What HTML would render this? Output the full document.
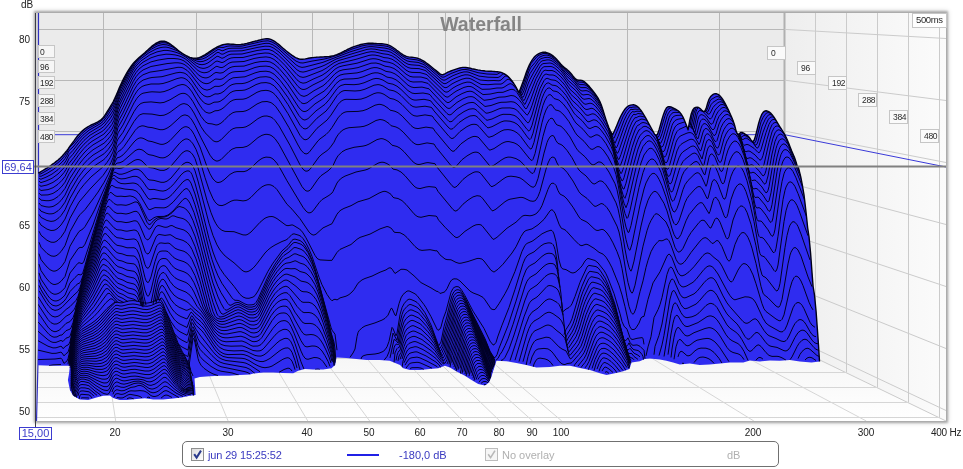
<!DOCTYPE html>
<html><head><meta charset="utf-8"><title>Waterfall</title>
<style>
html,body{margin:0;padding:0;background:#fff;}
body{width:963px;height:469px;position:relative;overflow:hidden;font-family:"Liberation Sans",sans-serif;}
.frame{position:absolute;left:36px;top:13px;width:910px;height:408px;box-shadow:0 0 2px 2px rgba(0,0,0,0.26),0 0 5px 2px rgba(0,0,0,0.16);background:#ebebeb}
.ax,.lb,.cur,.title,.lt{will-change:transform}
.ax{position:absolute;font-size:10px;color:#222;line-height:10px;white-space:nowrap}
.yl{width:30px;text-align:right;left:0}
.xl{width:40px;text-align:center;top:428px}
.lb{position:absolute;box-sizing:border-box;border:1px solid #c6c6c6;background:#f6f6f6;font-size:8.5px;line-height:12px;color:#2a2a2a;padding-left:1px;overflow:hidden;white-space:nowrap;letter-spacing:-0.35px}
.cur{position:absolute;box-sizing:border-box;border:1px solid #3c3cd0;background:#fff;color:#3c3cc8;font-size:11px;text-align:center;white-space:nowrap}
.title{position:absolute;left:381px;top:13px;width:200px;text-align:center;font-size:19.5px;font-weight:bold;color:#858585;line-height:22px}
.legend{position:absolute;left:182px;top:441px;width:597px;height:26px;box-sizing:border-box;border:1px solid #707070;border-radius:5px;background:#fff}
.lt{position:absolute;top:449px;font-size:11px;line-height:12px;white-space:nowrap}
.cb{position:absolute;top:448px;width:13px;height:13px;box-sizing:border-box;border:1px solid #8e8f8f;background:linear-gradient(135deg,#dcdcdc,#ffffff)}
</style></head><body>
<div class="frame"></div>
<svg width="963" height="469" viewBox="0 0 963 469" style="position:absolute;left:0;top:0">
<defs>
<linearGradient id="gside" x1="0" y1="0" x2="1" y2="0"><stop offset="0" stop-color="#eeeeee"/><stop offset="1" stop-color="#fbfbfb"/></linearGradient>
<linearGradient id="gfloor" x1="0" y1="0" x2="0" y2="1"><stop offset="0" stop-color="#f4f4f4"/><stop offset="1" stop-color="#ffffff"/></linearGradient>
<clipPath id="sil"><path d="M38.3,173.2 39.8,172.3 41.3,171.4 42.8,170.5 44.3,169.6 45.8,168.7 47.3,167.8 48.8,166.8 50.3,165.8 51.8,164.7 53.3,163.7 54.8,162.6 56.3,161.4 57.8,160.2 59.3,158.9 60.8,157.5 62.3,156 63.8,154.3 65.3,152.5 66.8,150.6 68.3,148.6 69.8,146.5 71.3,144.4 72.8,142.3 74.3,140.3 75.8,138.2 77.3,136.3 78.8,134.5 80.3,132.9 81.8,131.4 83.3,130.1 84.8,128.9 86.3,127.8 87.8,126.8 89.3,126 90.8,125.2 92.3,124.5 93.8,123.8 95.3,123.1 96.8,122.4 98.3,121.6 99.8,120.6 101.3,119.5 102.8,118 104.3,116.1 105.8,113.8 107.3,111.4 108.8,109.1 110.3,106.7 111.8,104.2 113.3,101.5 114.8,98.4 116.3,95 117.8,91.4 119.3,87.9 120.8,84.5 122.3,81.3 123.8,78.3 125.3,75.5 126.8,72.9 128.3,70.4 129.8,68.1 131.3,66 132.8,64 134.3,62.3 135.8,60.7 137.3,59.2 138.8,57.9 140.3,56.6 141.8,55.3 143.3,54 144.8,52.7 146.3,51.3 147.8,49.9 149.3,48.5 150.8,47.2 152.3,45.9 153.8,44.8 155.3,43.7 156.8,42.8 158.3,42.1 159.8,41.5 161.3,41.2 162.8,41.1 164.3,41.2 165.8,41.6 167.3,42.3 168.8,43.1 170.3,44.1 171.8,45.2 173.3,46.4 174.8,47.6 176.3,48.8 177.8,50.1 179.3,51.2 180.8,52.3 182.3,53.4 183.8,54.3 185.3,55.2 186.8,56 188.3,56.7 189.8,57.3 191.3,57.8 192.8,58.1 194.3,58.3 195.8,58.3 197.3,58 198.8,57.6 200.3,57.1 201.8,56.4 203.3,55.6 204.8,54.8 206.3,53.8 207.8,52.9 209.3,51.9 210.8,50.9 212.3,49.9 213.8,48.9 215.3,48 216.8,47.2 218.3,46.5 219.8,45.8 221.3,45.2 222.8,44.8 224.3,44.4 225.8,44.2 227.3,44 228.8,44 230.3,44.1 231.8,44.2 233.3,44.3 234.8,44.4 236.3,44.6 237.8,44.6 239.3,44.6 240.8,44.5 242.3,44.3 243.8,44.1 245.3,43.7 246.8,43.4 248.3,43 249.8,42.6 251.3,42.2 252.8,41.8 254.3,41.4 255.8,41 257.3,40.7 258.8,40.3 260.3,39.9 261.8,39.5 263.3,39.1 264.8,38.9 266.3,38.7 267.8,38.7 269.3,39 270.8,39.4 272.3,40.1 273.8,40.9 275.3,41.9 276.8,43 278.3,44.1 279.8,45.4 281.3,46.7 282.8,48 284.3,49.2 285.8,50.5 287.3,51.7 288.8,52.9 290.3,54 291.8,55.1 293.3,56.1 294.8,57.1 296.3,57.9 297.8,58.5 299.3,59 300.8,59.2 302.3,59.2 303.8,59.1 305.3,58.9 306.8,58.6 308.3,58.3 309.8,58 311.3,57.8 312.8,57.6 314.3,57.4 315.8,57.3 317.3,57.1 318.8,57.1 320.3,57 321.8,57 323.3,56.9 324.8,56.8 326.3,56.8 327.8,56.6 329.3,56.5 330.8,56.2 332.3,55.9 333.8,55.6 335.3,55.1 336.8,54.6 338.3,54 339.8,53.3 341.3,52.6 342.8,51.8 344.3,51 345.8,50.3 347.3,49.5 348.8,48.8 350.3,48.1 351.8,47.5 353.3,46.9 354.8,46.4 356.3,45.9 357.8,45.4 359.3,45 360.8,44.5 362.3,44.2 363.8,43.9 365.3,43.6 366.8,43.4 368.3,43.3 369.8,43.2 371.3,43.2 372.8,43.3 374.3,43.4 375.8,43.5 377.3,43.6 378.8,43.6 380.3,43.7 381.8,43.8 383.3,43.9 384.8,44.1 386.3,44.4 387.8,44.8 389.3,45.4 390.8,46.1 392.3,47 393.8,48 395.3,49 396.8,50.2 398.3,51.3 399.8,52.5 401.3,53.6 402.8,54.6 404.3,55.5 405.8,56.1 407.3,56.6 408.8,56.9 410.3,57.1 411.8,57.2 413.3,57.4 414.8,57.6 416.3,57.9 417.8,58.3 419.3,58.9 420.8,59.5 422.3,60.3 423.8,61.2 425.3,62.2 426.8,63.3 428.3,64.4 429.8,65.6 431.3,66.8 432.8,68 434.3,69.2 435.8,70.4 437.3,71.6 438.8,72.9 440.3,74.1 441.8,74.7 443.3,74.5 444.8,73.9 446.3,73 447.8,72.2 449.3,71.6 450.8,71 452.3,70.4 453.8,69.9 455.3,69.4 456.8,68.9 458.3,68.4 459.8,68 461.3,67.6 462.8,67.4 464.3,67.4 465.8,67.5 467.3,67.7 468.8,68 470.3,68.3 471.8,68.7 473.3,69 474.8,69.3 476.3,69.6 477.8,69.9 479.3,70.1 480.8,70.4 482.3,70.6 483.8,70.8 485.3,71 486.8,71.1 488.3,71.2 489.8,71.3 491.3,71.3 492.8,71.4 494.3,71.5 495.8,71.6 497.3,71.7 498.8,71.9 500.3,72.2 501.8,72.7 503.3,73.3 504.8,74.1 506.3,75.1 507.8,76.3 509.3,77.8 510.8,79.4 512.3,81.3 513.8,83.5 515.3,85.9 516.8,88.5 518.3,91.3 518.9,92.4 520.4,88.7 521.9,84.8 523.4,80.7 524.9,76.4 526.4,72.1 527.9,68.3 529.4,64.9 530.9,62 532.4,59.6 533.9,57.6 535.4,56 536.9,54.8 538.4,53.8 539.9,53.1 541.4,52.6 542.9,52.3 544.4,52.2 545.9,52.3 547.4,52.8 548.9,53.4 550.4,54.2 551.9,55.2 553.4,56.2 554.9,57.5 556.4,58.9 557.9,60.6 559.4,62.4 560.9,64.2 562.4,65.8 563.9,67.1 565.4,68.2 566.9,69.4 568.4,70.8 569.9,72.3 571.4,74 572.9,75.9 574.4,77.7 575.9,79.2 577.4,80 578.9,80.2 580.4,80.3 581.9,80.5 583.4,81.2 584.9,82.2 586.4,83.5 587.9,85 589.4,86.6 590.9,88.4 592.4,90.2 593.9,92.1 595.4,94.1 596.9,96.3 598.4,98.7 599.9,101.6 601.4,105.3 602.9,109.8 604.4,114.7 605.9,119.4 607.4,123.8 608.9,127.7 610.4,131 611.9,133.8 612.5,134.9 614,131.8 615.5,128.5 617,124.9 618.5,121.3 620,117.9 621.5,114.8 623,112.1 624.5,109.8 626,107.9 627.5,106.5 629,105.6 630.5,105.1 632,104.9 633.5,104.8 635,105.1 636.5,105.9 638,107 639.5,108.6 641,110.5 642.5,112.7 644,115.1 645.5,117.6 647,120.3 648.5,123.1 650,125.9 651.5,128.6 653,131.4 654.5,134.1 656,135.8 657.5,134.2 659,129.9 660.5,124.7 662,119.3 663.5,114.4 665,110.5 666.5,107.9 668,106.8 669.5,106.6 671,106.9 672.5,107.6 674,108.3 675.5,109.1 677,110 678.5,111.1 680,112.6 681.5,114.5 683,117.1 684.5,120.5 686,124.2 687.5,128.3 688.1,129.9 689.6,121 691.1,114.3 692.6,110.2 694.1,108.2 695.6,107.4 697.1,107.2 698.6,107.5 700.1,108.6 701.6,110.1 703.1,111.4 704.6,111.4 706.1,108.6 707.6,103.3 709.1,99 710.6,96.6 712.1,95.2 713.6,94.2 715.1,93.7 716.6,93.8 718.1,94.4 719.6,95.6 721.1,97.2 722.6,99.2 724.1,101.6 725.6,104.3 727.1,107.2 728.6,110.3 730.1,113.7 731.6,117.1 733.1,120.7 734.6,125.3 736.1,131.1 737.6,134.5 739.1,133.9 740.6,132.5 742.1,132.4 743.6,133.2 745.1,134.2 746.6,135.1 748.1,136.1 749.6,137.8 751.1,140.2 752.6,141.8 754.1,140.3 755.6,135.7 757.1,129.6 758.6,123.5 760.1,118.4 761.6,114.7 763.1,112.4 764.6,111.1 766.1,110.8 767.6,111.1 769.1,111.9 770.6,113.1 772.1,114.7 773.6,116.7 775.1,119 776.6,121.4 778.1,123.9 779.6,126.3 781.1,128.6 782.6,131 784.1,133.6 785.6,136.4 787.1,139.6 788.6,143.1 790.1,146.9 791.6,150.7 793.1,154.2 794.6,157.7 796.1,162.3 797.3,166.5 798.2,166.6 800.7,176.6 802.3,184.9 804,194.9 805.2,204.9 806.5,216.5 807.7,228 809,236.6 810.6,253.3 811.8,269.9 813.1,286.5 814.5,295 816.1,311.6 817.3,328.3 818.5,344.9 819.5,361.5 811.5,362.4 799.8,361.5 789.9,359.9 779.9,360.7 769.9,360.4 759.9,361.5 749.9,360.4 743.3,362.4 730,362.4 720,363.6 709.7,364.6 699.7,364.9 689.7,363.6 679.8,364.6 673.1,362.4 666.4,360.7 659.8,359.6 649.8,358.6 644.8,359.1 639.8,361.2 631.5,362.4 629.5,369.1 623.2,371.2 614.9,373.2 606.6,374.9 599.9,373.2 589.9,369.9 580,367.9 570,365.7 560,365.7 549.7,366.9 536.4,367.4 526.4,364.9 516.4,362.9 506.4,361.2 496.5,360.7 494,368.2 491.5,376.6 489,382.4 484.8,385.4 478.2,384 471.5,379.9 464.9,375.7 456.6,371.6 449.9,367.4 444.9,365.7 438.3,368.2 429.9,369.1 420,369.9 410,369.9 403.3,368.2 400,364.9 389.7,360.7 379.7,359.9 366.4,359.9 356.4,359.1 346.4,357.9 336.5,357.4 335.1,364.9 331.5,368.2 323.2,369.6 313.2,369.6 304.9,369.1 298.2,370.7 293.2,373.2 283.2,372.9 273.3,372.4 263.3,372.4 253.3,373.6 250,374.6 239.7,374.9 229.7,375.7 219.7,375.7 209.8,376.2 199.8,376.9 194.5,378.6 195.6,394.9 189.8,395.7 181.5,397.4 173.2,398.5 163.2,399.5 153.2,399.5 144.9,398.2 136.6,399 126.6,399.9 119.8,399.9 113.2,397.9 109.8,395.4 103.2,395.7 96.5,397.4 88.2,399.9 79.9,399.5 73.2,395.7 69.9,389.9 67.9,379.9 69.1,373.2 69.9,365.8 52.5,365.8 38,365.3Z"/></clipPath>
<clipPath id="plot"><rect x="36.0" y="13.0" width="910.0" height="408.0"/></clipPath>
</defs>
<g clip-path="url(#plot)">
<polygon points="36.0,13.0 38.5,13.0 38.5,343.0 36.0,421.0" fill="#d4d4d4"/>
<rect x="38.5" y="13.0" width="746.2" height="330.0" fill="#ebebeb"/>
<polygon points="784.7,13.0 946.0,13.0 946.0,421.0 784.7,343.0" fill="url(#gside)"/>
<polygon points="38.5,343.0 784.7,343.0 946.0,421.0 36.0,421.0" fill="url(#gfloor)"/>
<path d="M103.5,13.0V343.0M196.5,13.0V343.0M261.5,13.0V343.0M312.5,13.0V343.0M353.5,13.0V343.0M388.5,13.0V343.0M418.5,13.0V343.0M445.5,13.0V343.0M469.5,13.0V343.0M627.5,13.0V343.0M719.5,13.0V343.0M38.5,29.5H784.7M38.5,80.5H784.7M38.5,131.5H784.7M38.5,181.5H784.7M38.5,232.5H784.7M38.5,283.5H784.7M38.5,334.5H784.7" stroke="#b8b8b8" stroke-width="1" fill="none"/>
<path d="M784.5,13.0V343.0" stroke="#b0b0b0" stroke-width="2" fill="none"/>
<path d="M815.5,13.0V358.0M846.5,13.0V373.0M877.5,13.0V387.9M908.5,13.0V402.9M939.5,13.0V417.9M784.7,29.4L946.0,38.5M784.7,80.2L946.0,100.5M784.7,131.1L946.0,162.5M784.7,181.9L946.0,224.5M784.7,232.8L946.0,286.5M784.7,283.6L946.0,348.5M784.7,334.4L946.0,410.5M784.7,343.0L946.0,421.0" stroke="#cbcbcb" stroke-width="1" fill="none"/>
<path d="M38.0,358.5H815.7M37.6,372.5H846.7M37.1,387.5H877.6M36.6,402.5H908.6M36.1,417.5H939.5M103.9,343.0L115.7,421.0M196.0,343.0L228.1,421.0M261.4,343.0L307.8,421.0M312.1,343.0L369.7,421.0M353.6,343.0L420.2,421.0M388.6,343.0L462.9,421.0M419.0,343.0L499.9,421.0M445.7,343.0L532.6,421.0M469.7,343.0L561.8,421.0M627.2,343.0L753.9,421.0M719.3,343.0L866.3,421.0" stroke="#d6d6d6" stroke-width="1" fill="none"/>
<path d="M38.5,134.7H784.7L946.0,167.0" stroke="#3a3ad8" stroke-width="1" fill="none"/>
<path d="M38.5,13.0V343.0L36.5,421.0" stroke="#3030c0" stroke-width="1.2" fill="none"/>
<path d="M38.3,173.2 39.8,172.3 41.3,171.4 42.8,170.5 44.3,169.6 45.8,168.7 47.3,167.8 48.8,166.8 50.3,165.8 51.8,164.7 53.3,163.7 54.8,162.6 56.3,161.4 57.8,160.2 59.3,158.9 60.8,157.5 62.3,156 63.8,154.3 65.3,152.5 66.8,150.6 68.3,148.6 69.8,146.5 71.3,144.4 72.8,142.3 74.3,140.3 75.8,138.2 77.3,136.3 78.8,134.5 80.3,132.9 81.8,131.4 83.3,130.1 84.8,128.9 86.3,127.8 87.8,126.8 89.3,126 90.8,125.2 92.3,124.5 93.8,123.8 95.3,123.1 96.8,122.4 98.3,121.6 99.8,120.6 101.3,119.5 102.8,118 104.3,116.1 105.8,113.8 107.3,111.4 108.8,109.1 110.3,106.7 111.8,104.2 113.3,101.5 114.8,98.4 116.3,95 117.8,91.4 119.3,87.9 120.8,84.5 122.3,81.3 123.8,78.3 125.3,75.5 126.8,72.9 128.3,70.4 129.8,68.1 131.3,66 132.8,64 134.3,62.3 135.8,60.7 137.3,59.2 138.8,57.9 140.3,56.6 141.8,55.3 143.3,54 144.8,52.7 146.3,51.3 147.8,49.9 149.3,48.5 150.8,47.2 152.3,45.9 153.8,44.8 155.3,43.7 156.8,42.8 158.3,42.1 159.8,41.5 161.3,41.2 162.8,41.1 164.3,41.2 165.8,41.6 167.3,42.3 168.8,43.1 170.3,44.1 171.8,45.2 173.3,46.4 174.8,47.6 176.3,48.8 177.8,50.1 179.3,51.2 180.8,52.3 182.3,53.4 183.8,54.3 185.3,55.2 186.8,56 188.3,56.7 189.8,57.3 191.3,57.8 192.8,58.1 194.3,58.3 195.8,58.3 197.3,58 198.8,57.6 200.3,57.1 201.8,56.4 203.3,55.6 204.8,54.8 206.3,53.8 207.8,52.9 209.3,51.9 210.8,50.9 212.3,49.9 213.8,48.9 215.3,48 216.8,47.2 218.3,46.5 219.8,45.8 221.3,45.2 222.8,44.8 224.3,44.4 225.8,44.2 227.3,44 228.8,44 230.3,44.1 231.8,44.2 233.3,44.3 234.8,44.4 236.3,44.6 237.8,44.6 239.3,44.6 240.8,44.5 242.3,44.3 243.8,44.1 245.3,43.7 246.8,43.4 248.3,43 249.8,42.6 251.3,42.2 252.8,41.8 254.3,41.4 255.8,41 257.3,40.7 258.8,40.3 260.3,39.9 261.8,39.5 263.3,39.1 264.8,38.9 266.3,38.7 267.8,38.7 269.3,39 270.8,39.4 272.3,40.1 273.8,40.9 275.3,41.9 276.8,43 278.3,44.1 279.8,45.4 281.3,46.7 282.8,48 284.3,49.2 285.8,50.5 287.3,51.7 288.8,52.9 290.3,54 291.8,55.1 293.3,56.1 294.8,57.1 296.3,57.9 297.8,58.5 299.3,59 300.8,59.2 302.3,59.2 303.8,59.1 305.3,58.9 306.8,58.6 308.3,58.3 309.8,58 311.3,57.8 312.8,57.6 314.3,57.4 315.8,57.3 317.3,57.1 318.8,57.1 320.3,57 321.8,57 323.3,56.9 324.8,56.8 326.3,56.8 327.8,56.6 329.3,56.5 330.8,56.2 332.3,55.9 333.8,55.6 335.3,55.1 336.8,54.6 338.3,54 339.8,53.3 341.3,52.6 342.8,51.8 344.3,51 345.8,50.3 347.3,49.5 348.8,48.8 350.3,48.1 351.8,47.5 353.3,46.9 354.8,46.4 356.3,45.9 357.8,45.4 359.3,45 360.8,44.5 362.3,44.2 363.8,43.9 365.3,43.6 366.8,43.4 368.3,43.3 369.8,43.2 371.3,43.2 372.8,43.3 374.3,43.4 375.8,43.5 377.3,43.6 378.8,43.6 380.3,43.7 381.8,43.8 383.3,43.9 384.8,44.1 386.3,44.4 387.8,44.8 389.3,45.4 390.8,46.1 392.3,47 393.8,48 395.3,49 396.8,50.2 398.3,51.3 399.8,52.5 401.3,53.6 402.8,54.6 404.3,55.5 405.8,56.1 407.3,56.6 408.8,56.9 410.3,57.1 411.8,57.2 413.3,57.4 414.8,57.6 416.3,57.9 417.8,58.3 419.3,58.9 420.8,59.5 422.3,60.3 423.8,61.2 425.3,62.2 426.8,63.3 428.3,64.4 429.8,65.6 431.3,66.8 432.8,68 434.3,69.2 435.8,70.4 437.3,71.6 438.8,72.9 440.3,74.1 441.8,74.7 443.3,74.5 444.8,73.9 446.3,73 447.8,72.2 449.3,71.6 450.8,71 452.3,70.4 453.8,69.9 455.3,69.4 456.8,68.9 458.3,68.4 459.8,68 461.3,67.6 462.8,67.4 464.3,67.4 465.8,67.5 467.3,67.7 468.8,68 470.3,68.3 471.8,68.7 473.3,69 474.8,69.3 476.3,69.6 477.8,69.9 479.3,70.1 480.8,70.4 482.3,70.6 483.8,70.8 485.3,71 486.8,71.1 488.3,71.2 489.8,71.3 491.3,71.3 492.8,71.4 494.3,71.5 495.8,71.6 497.3,71.7 498.8,71.9 500.3,72.2 501.8,72.7 503.3,73.3 504.8,74.1 506.3,75.1 507.8,76.3 509.3,77.8 510.8,79.4 512.3,81.3 513.8,83.5 515.3,85.9 516.8,88.5 518.3,91.3 518.9,92.4 520.4,88.7 521.9,84.8 523.4,80.7 524.9,76.4 526.4,72.1 527.9,68.3 529.4,64.9 530.9,62 532.4,59.6 533.9,57.6 535.4,56 536.9,54.8 538.4,53.8 539.9,53.1 541.4,52.6 542.9,52.3 544.4,52.2 545.9,52.3 547.4,52.8 548.9,53.4 550.4,54.2 551.9,55.2 553.4,56.2 554.9,57.5 556.4,58.9 557.9,60.6 559.4,62.4 560.9,64.2 562.4,65.8 563.9,67.1 565.4,68.2 566.9,69.4 568.4,70.8 569.9,72.3 571.4,74 572.9,75.9 574.4,77.7 575.9,79.2 577.4,80 578.9,80.2 580.4,80.3 581.9,80.5 583.4,81.2 584.9,82.2 586.4,83.5 587.9,85 589.4,86.6 590.9,88.4 592.4,90.2 593.9,92.1 595.4,94.1 596.9,96.3 598.4,98.7 599.9,101.6 601.4,105.3 602.9,109.8 604.4,114.7 605.9,119.4 607.4,123.8 608.9,127.7 610.4,131 611.9,133.8 612.5,134.9 614,131.8 615.5,128.5 617,124.9 618.5,121.3 620,117.9 621.5,114.8 623,112.1 624.5,109.8 626,107.9 627.5,106.5 629,105.6 630.5,105.1 632,104.9 633.5,104.8 635,105.1 636.5,105.9 638,107 639.5,108.6 641,110.5 642.5,112.7 644,115.1 645.5,117.6 647,120.3 648.5,123.1 650,125.9 651.5,128.6 653,131.4 654.5,134.1 656,135.8 657.5,134.2 659,129.9 660.5,124.7 662,119.3 663.5,114.4 665,110.5 666.5,107.9 668,106.8 669.5,106.6 671,106.9 672.5,107.6 674,108.3 675.5,109.1 677,110 678.5,111.1 680,112.6 681.5,114.5 683,117.1 684.5,120.5 686,124.2 687.5,128.3 688.1,129.9 689.6,121 691.1,114.3 692.6,110.2 694.1,108.2 695.6,107.4 697.1,107.2 698.6,107.5 700.1,108.6 701.6,110.1 703.1,111.4 704.6,111.4 706.1,108.6 707.6,103.3 709.1,99 710.6,96.6 712.1,95.2 713.6,94.2 715.1,93.7 716.6,93.8 718.1,94.4 719.6,95.6 721.1,97.2 722.6,99.2 724.1,101.6 725.6,104.3 727.1,107.2 728.6,110.3 730.1,113.7 731.6,117.1 733.1,120.7 734.6,125.3 736.1,131.1 737.6,134.5 739.1,133.9 740.6,132.5 742.1,132.4 743.6,133.2 745.1,134.2 746.6,135.1 748.1,136.1 749.6,137.8 751.1,140.2 752.6,141.8 754.1,140.3 755.6,135.7 757.1,129.6 758.6,123.5 760.1,118.4 761.6,114.7 763.1,112.4 764.6,111.1 766.1,110.8 767.6,111.1 769.1,111.9 770.6,113.1 772.1,114.7 773.6,116.7 775.1,119 776.6,121.4 778.1,123.9 779.6,126.3 781.1,128.6 782.6,131 784.1,133.6 785.6,136.4 787.1,139.6 788.6,143.1 790.1,146.9 791.6,150.7 793.1,154.2 794.6,157.7 796.1,162.3 797.3,166.5 798.2,166.6 800.7,176.6 802.3,184.9 804,194.9 805.2,204.9 806.5,216.5 807.7,228 809,236.6 810.6,253.3 811.8,269.9 813.1,286.5 814.5,295 816.1,311.6 817.3,328.3 818.5,344.9 819.5,361.5 811.5,362.4 799.8,361.5 789.9,359.9 779.9,360.7 769.9,360.4 759.9,361.5 749.9,360.4 743.3,362.4 730,362.4 720,363.6 709.7,364.6 699.7,364.9 689.7,363.6 679.8,364.6 673.1,362.4 666.4,360.7 659.8,359.6 649.8,358.6 644.8,359.1 639.8,361.2 631.5,362.4 629.5,369.1 623.2,371.2 614.9,373.2 606.6,374.9 599.9,373.2 589.9,369.9 580,367.9 570,365.7 560,365.7 549.7,366.9 536.4,367.4 526.4,364.9 516.4,362.9 506.4,361.2 496.5,360.7 494,368.2 491.5,376.6 489,382.4 484.8,385.4 478.2,384 471.5,379.9 464.9,375.7 456.6,371.6 449.9,367.4 444.9,365.7 438.3,368.2 429.9,369.1 420,369.9 410,369.9 403.3,368.2 400,364.9 389.7,360.7 379.7,359.9 366.4,359.9 356.4,359.1 346.4,357.9 336.5,357.4 335.1,364.9 331.5,368.2 323.2,369.6 313.2,369.6 304.9,369.1 298.2,370.7 293.2,373.2 283.2,372.9 273.3,372.4 263.3,372.4 253.3,373.6 250,374.6 239.7,374.9 229.7,375.7 219.7,375.7 209.8,376.2 199.8,376.9 194.5,378.6 195.6,394.9 189.8,395.7 181.5,397.4 173.2,398.5 163.2,399.5 153.2,399.5 144.9,398.2 136.6,399 126.6,399.9 119.8,399.9 113.2,397.9 109.8,395.4 103.2,395.7 96.5,397.4 88.2,399.9 79.9,399.5 73.2,395.7 69.9,389.9 67.9,379.9 69.1,373.2 69.9,365.8 52.5,365.8 38,365.3Z" fill="#2f2cf0"/>
<path d="M38.3,173.2 39.8,172.3 41.3,171.4 42.8,170.5 44.3,169.6 45.8,168.7 47.3,167.8 48.8,166.8 50.3,165.8 51.8,164.7 53.3,163.7 54.8,162.6 56.3,161.4 57.8,160.2 59.3,158.9 60.8,157.5 62.3,156 63.8,154.3 65.3,152.5 66.8,150.6 68.3,148.6 69.8,146.5 71.3,144.4 72.8,142.3 74.3,140.3 75.8,138.2 77.3,136.3 78.8,134.5 80.3,132.9 81.8,131.4 83.3,130.1 84.8,128.9 86.3,127.8 87.8,126.8 89.3,126 90.8,125.2 92.3,124.5 93.8,123.8 95.3,123.1 96.8,122.4 98.3,121.6 99.8,120.6 101.3,119.5 102.8,118 104.3,116.1 105.8,113.8 107.3,111.4 108.8,109.1 110.3,106.7 111.8,104.2 113.3,101.5 114.8,98.4 116.3,95 117.8,91.4 119.3,87.9 120.8,84.5 122.3,81.3 123.8,78.3 125.3,75.5 126.8,72.9 128.3,70.4 129.8,68.1 131.3,66 132.8,64 134.3,62.3 135.8,60.7 137.3,59.2 138.8,57.9 140.3,56.6 141.8,55.3 143.3,54 144.8,52.7 146.3,51.3 147.8,49.9 149.3,48.5 150.8,47.2 152.3,45.9 153.8,44.8 155.3,43.7 156.8,42.8 158.3,42.1 159.8,41.5 161.3,41.2 162.8,41.1 164.3,41.2 165.8,41.6 167.3,42.3 168.8,43.1 170.3,44.1 171.8,45.2 173.3,46.4 174.8,47.6 176.3,48.8 177.8,50.1 179.3,51.2 180.8,52.3 182.3,53.4 183.8,54.3 185.3,55.2 186.8,56 188.3,56.7 189.8,57.3 191.3,57.8 192.8,58.1 194.3,58.3 195.8,58.3 197.3,58 198.8,57.6 200.3,57.1 201.8,56.4 203.3,55.6 204.8,54.8 206.3,53.8 207.8,52.9 209.3,51.9 210.8,50.9 212.3,49.9 213.8,48.9 215.3,48 216.8,47.2 218.3,46.5 219.8,45.8 221.3,45.2 222.8,44.8 224.3,44.4 225.8,44.2 227.3,44 228.8,44 230.3,44.1 231.8,44.2 233.3,44.3 234.8,44.4 236.3,44.6 237.8,44.6 239.3,44.6 240.8,44.5 242.3,44.3 243.8,44.1 245.3,43.7 246.8,43.4 248.3,43 249.8,42.6 251.3,42.2 252.8,41.8 254.3,41.4 255.8,41 257.3,40.7 258.8,40.3 260.3,39.9 261.8,39.5 263.3,39.1 264.8,38.9 266.3,38.7 267.8,38.7 269.3,39 270.8,39.4 272.3,40.1 273.8,40.9 275.3,41.9 276.8,43 278.3,44.1 279.8,45.4 281.3,46.7 282.8,48 284.3,49.2 285.8,50.5 287.3,51.7 288.8,52.9 290.3,54 291.8,55.1 293.3,56.1 294.8,57.1 296.3,57.9 297.8,58.5 299.3,59 300.8,59.2 302.3,59.2 303.8,59.1 305.3,58.9 306.8,58.6 308.3,58.3 309.8,58 311.3,57.8 312.8,57.6 314.3,57.4 315.8,57.3 317.3,57.1 318.8,57.1 320.3,57 321.8,57 323.3,56.9 324.8,56.8 326.3,56.8 327.8,56.6 329.3,56.5 330.8,56.2 332.3,55.9 333.8,55.6 335.3,55.1 336.8,54.6 338.3,54 339.8,53.3 341.3,52.6 342.8,51.8 344.3,51 345.8,50.3 347.3,49.5 348.8,48.8 350.3,48.1 351.8,47.5 353.3,46.9 354.8,46.4 356.3,45.9 357.8,45.4 359.3,45 360.8,44.5 362.3,44.2 363.8,43.9 365.3,43.6 366.8,43.4 368.3,43.3 369.8,43.2 371.3,43.2 372.8,43.3 374.3,43.4 375.8,43.5 377.3,43.6 378.8,43.6 380.3,43.7 381.8,43.8 383.3,43.9 384.8,44.1 386.3,44.4 387.8,44.8 389.3,45.4 390.8,46.1 392.3,47 393.8,48 395.3,49 396.8,50.2 398.3,51.3 399.8,52.5 401.3,53.6 402.8,54.6 404.3,55.5 405.8,56.1 407.3,56.6 408.8,56.9 410.3,57.1 411.8,57.2 413.3,57.4 414.8,57.6 416.3,57.9 417.8,58.3 419.3,58.9 420.8,59.5 422.3,60.3 423.8,61.2 425.3,62.2 426.8,63.3 428.3,64.4 429.8,65.6 431.3,66.8 432.8,68 434.3,69.2 435.8,70.4 437.3,71.6 438.8,72.9 440.3,74.1 441.8,74.7 443.3,74.5 444.8,73.9 446.3,73 447.8,72.2 449.3,71.6 450.8,71 452.3,70.4 453.8,69.9 455.3,69.4 456.8,68.9 458.3,68.4 459.8,68 461.3,67.6 462.8,67.4 464.3,67.4 465.8,67.5 467.3,67.7 468.8,68 470.3,68.3 471.8,68.7 473.3,69 474.8,69.3 476.3,69.6 477.8,69.9 479.3,70.1 480.8,70.4 482.3,70.6 483.8,70.8 485.3,71 486.8,71.1 488.3,71.2 489.8,71.3 491.3,71.3 492.8,71.4 494.3,71.5 495.8,71.6 497.3,71.7 498.8,71.9 500.3,72.2 501.8,72.7 503.3,73.3 504.8,74.1 506.3,75.1 507.8,76.3 509.3,77.8 510.8,79.4 512.3,81.3 513.8,83.5 515.3,85.9 516.8,88.5 518.3,91.3 518.9,92.4 520.4,88.7 521.9,84.8 523.4,80.7 524.9,76.4 526.4,72.1 527.9,68.3 529.4,64.9 530.9,62 532.4,59.6 533.9,57.6 535.4,56 536.9,54.8 538.4,53.8 539.9,53.1 541.4,52.6 542.9,52.3 544.4,52.2 545.9,52.3 547.4,52.8 548.9,53.4 550.4,54.2 551.9,55.2 553.4,56.2 554.9,57.5 556.4,58.9 557.9,60.6 559.4,62.4 560.9,64.2 562.4,65.8 563.9,67.1 565.4,68.2 566.9,69.4 568.4,70.8 569.9,72.3 571.4,74 572.9,75.9 574.4,77.7 575.9,79.2 577.4,80 578.9,80.2 580.4,80.3 581.9,80.5 583.4,81.2 584.9,82.2 586.4,83.5 587.9,85 589.4,86.6 590.9,88.4 592.4,90.2 593.9,92.1 595.4,94.1 596.9,96.3 598.4,98.7 599.9,101.6 601.4,105.3 602.9,109.8 604.4,114.7 605.9,119.4 607.4,123.8 608.9,127.7 610.4,131 611.9,133.8 612.5,134.9 614,131.8 615.5,128.5 617,124.9 618.5,121.3 620,117.9 621.5,114.8 623,112.1 624.5,109.8 626,107.9 627.5,106.5 629,105.6 630.5,105.1 632,104.9 633.5,104.8 635,105.1 636.5,105.9 638,107 639.5,108.6 641,110.5 642.5,112.7 644,115.1 645.5,117.6 647,120.3 648.5,123.1 650,125.9 651.5,128.6 653,131.4 654.5,134.1 656,135.8 657.5,134.2 659,129.9 660.5,124.7 662,119.3 663.5,114.4 665,110.5 666.5,107.9 668,106.8 669.5,106.6 671,106.9 672.5,107.6 674,108.3 675.5,109.1 677,110 678.5,111.1 680,112.6 681.5,114.5 683,117.1 684.5,120.5 686,124.2 687.5,128.3 688.1,129.9 689.6,121 691.1,114.3 692.6,110.2 694.1,108.2 695.6,107.4 697.1,107.2 698.6,107.5 700.1,108.6 701.6,110.1 703.1,111.4 704.6,111.4 706.1,108.6 707.6,103.3 709.1,99 710.6,96.6 712.1,95.2 713.6,94.2 715.1,93.7 716.6,93.8 718.1,94.4 719.6,95.6 721.1,97.2 722.6,99.2 724.1,101.6 725.6,104.3 727.1,107.2 728.6,110.3 730.1,113.7 731.6,117.1 733.1,120.7 734.6,125.3 736.1,131.1 737.6,134.5 739.1,133.9 740.6,132.5 742.1,132.4 743.6,133.2 745.1,134.2 746.6,135.1 748.1,136.1 749.6,137.8 751.1,140.2 752.6,141.8 754.1,140.3 755.6,135.7 757.1,129.6 758.6,123.5 760.1,118.4 761.6,114.7 763.1,112.4 764.6,111.1 766.1,110.8 767.6,111.1 769.1,111.9 770.6,113.1 772.1,114.7 773.6,116.7 775.1,119 776.6,121.4 778.1,123.9 779.6,126.3 781.1,128.6 782.6,131 784.1,133.6 785.6,136.4 787.1,139.6 788.6,143.1 790.1,146.9 791.6,150.7 793.1,154.2 794.6,157.7 796.1,162.3 797.3,166.5 798.2,166.6 800.7,176.6 802.3,184.9 804,194.9 805.2,204.9 806.5,216.5 807.7,228 809,236.6 810.6,253.3 811.8,269.9 813.1,286.5 814.5,295 816.1,311.6 817.3,328.3 818.5,344.9 819.5,361.5" fill="none" stroke="#000018" stroke-width="1.4" stroke-linejoin="round"/>
<g clip-path="url(#sil)" fill="none" stroke="#000024" stroke-width="1" stroke-linejoin="round">
<path d="M39,174.2l2-.4 7-4 5-3.3 5-3.8 4-3.7 3-3.5 2-3.2 2-4.4 5-4.9 8-9.5 6-4.9 11-6 4-3.2 3-4 7-11 7-17.2 7-14.1 6-9.3 5-5.6 14-12 4-2.6 4-1.7 4-.4 3,.7 4,2.2 5,3.4M190,56.7l3,1.2 3,.6 2-.1 3-.7 5-2.3 10-6.7 3-1.5 4,.4 4-1.3 3-.4 9,.4 3-.2 21-4.9 5-.4 4,1.2 4,2.3 15,13 5,3.8 4,1.7 3,.2 9-1.9 12-2 6-1.5 9-3 13-5.5 10-3.2 6-1.1 5,0 11,1 4,.8 5,2.4 9,6.8 4,2.3 3,.8 8,1 5,1.7 5,3.3 13,10.8 2,1.4 2,0 7-3.6 8-3 3-.8 3-.3 4,.6 9,2.7 9,1.3 10,.4 3-1.7 1-.4 1,.1 4,1.9 3,2.4M520,92.3l3-7.5 5-14.5 3-6.7 6-6.9 2-1.5 4-1.6 2-.2 2,.2 4,1.7 5,3.7 7,8.2 7,6 7,8 2,.9 3,.1 2,.5 4,3 4,4.4 5,6.6 3,4.8 2,4.5M609,128.4l3,7.2 1,2 1,.7 9-21.5 3-5.4 2-2.6 2-1.6 1,.4 2-.5 6-.2 1,.2 2,2.2M657,137.2l1,.1 1-1.5 6-20 2-5 1-1.5 2-1.3 2-.1 6,2.1 3,2M690,125.8l2-10.3 2-6.2 1-1.6 1-.9 2-.4M705,111.6l1-.3 1-1.4 3-8.8 1-1.5 5-2.9 2-.1 2,.9 3,3.1 7,10.3 3,6.3M740,135.3l2-1.6 1-.2 1,.2 5,3.3 2,2 1,1.5M753,142.1l1,.9 1-.3 1-2 5-18.8 2-4.3 2-3.2 2-1.6 2-.2 2,1 3,2.9"/>
<path d="M39,176l2,.3 6-2.9 6-3.7 5-3.8 4-3.7 3-3.6 2-3.4 2-4.5 4-3.7 6-7.4 4-4.4 6-5 11-6.3 3-2.4 4-5.1 6-9.2 2-4.5 4-11.5 2-4.7 7-13.9 6-9.5 5-5.5 12-9.8 6-3.6 5-1.5 4,.2 4,1.5 21,12.9 4,1.8 3,.5 4-.5 4-1.6 12-8.1 1,0 3,1.4 1-.1 3-1.4 3-.9 3-.2 10,0 21-4.5 3-.4 3,.1 4,1.5 5,3.4 18,16.5 3,1.8 3,.8 3-.4 18-4.7 27-10.4 15-4.6 4-.6 3-.1 13,1.5 4,.9 3,1.4 4,2.6 7,5.6 4,2.3 3,.7 8,.8 6,2.2 6,4.7 11,9.6 2,1.2 2,0 8-4.5 7-2.7 4-1 3,0 2,.4 10,3.8 9,1.1 10,.3 2-1 3-2.7 1-.1 1,.3 3,1.9 4,3.9 3,3.9 5,8.5 1,1.1 2-4.7 6-17.6 2-3.8 4-4.6 4-5.2 4-1.8 2-.4 2-.1 2,.5 2,.9 6,4.5 7,8.5 7,6.1 7,8.1 2,.9 3,0 2,.3 2,1.1 2,1.7 5,5.7 5,7 3,5.4 2,5.3M609,128.5l3,8.8 3,6 3-6.9 6-16 3-6.1 3-4.2 1-.9 1,.4 3-.5 3,.2 3-.9 1,0 1,.6 2,2.9M657,137.6l1,1.7 1,.7 1-1 2-5.4 5-17.2 1-2.5 2-3 1-.8 2-.4 5,.9 3,1.2 3,2.5M691,127.6l3-14.5 2-5 1-1.2 2-.6 2,.5 2,1.8M706,112.1l1,.3 1-.7 3-7 2-2.4 5-3.1 1-.1 2,.6 3,2.9 7,11 5,9.4 2,6.2M740,136l1,1.3 3-1.9 2,.5 5,3.6 4,5.4 1,.3 1-1.2 1-2.7 4-15 3-6.5 2-3.4 2-1.7 2-.1 3,1.9 3,3.7"/>
<path d="M39,178.2l1,.8 1,.2 5-2 6-3.1 6-4.4 6-6.1 2-2.9 3-6.2 4-4.1 6-7.7 4-4.6 6-5.2 12-7.2 3-2.6 7-9.3 2-3.3 2-4.7 4-12.4 2-4.8 8-16 6-9.6 5-5.4 11-8.3 6-3.2 3-1 3-.6 4,.4 5,1.8 9,4.8 13,8.4 3,1.3 3,.5 3-.3 4-1.6 4-2.5 6-4.7 1-.2 1,.2 2,1.4 2,.2 4-2.1 3-1 12-.3 16-3.5 7-1.1 4,.1 2,.5 3,1.5 5,3.7 18,17.8 3,1.8 3,.5 3-.6 15-4.8 4-1.7 11-5.9 14-4.7 17-5 4-.5 4,.3 7,1.4 5,.5 4,1.2 5,3.2 8,6.5 4,2.2 3,.6 8,.6 6,2.1 17,15 2,1.2 2-.2 6-3.8 4-1.9 6-2.3 3-.7 3,.1 2,.5 10,4.6 8,.7 6-.2 5,.3 1-.3 1-.5 4-3.8 1-.2 1,.2 3,2.2 4,4.4 3,4.3 4,7 1,.9 2-4.6 4-12.2 2-4.6 8-12 1-1.4 2-1.6 4-1.1 3-.2 2,.5 2,1 6,4.7 7,8.7 8,7.2 6,7.2 2,1 5,0 2,1 3,2.6 5,6 5,7.4 3,6.3 2,6.3M610,132.1l3,9.5 3,6.4 1-1.2 1-2.4 6-17.1 3-7.4 3-5.6 2-2.5 1-.2 1,.4 3-.8 4,.2 2-.8 1-.1 1,.5 2,3M657,137.5l2,4.5 1,1.3 1-.4 2-4.7 6-20.4 1-2.1 2-2.5 1-.5 2-.4 4,.2 3,.6 3,1.9 2,2.8M692,129l1-3.3 3-14 1-2.5 1-1.4 1-.7 1-.1 2,.7 2,1.7 3,3.9 1,.7 1,.1 1-.7 3-5.9 1-1.4 4-3.5 2-.9 2,.3 2,1.4 2,2.4 2,3.3 4,7.1 4,8.2 2,4.5 3,8.7 1,1.7 1,.3 2-1.3 1-.2 1,.3 6,4.5 3,4.3 1,.9 1-.3 1-1.9 4-13.6 3-8 2-4.4 2-2.4 2-.7 1,.2 2,1.2 3,3.3 3,5M784,131.8l5,8.6"/>
<path d="M39,181l1,1.1 1,.5 5-1.6 6-2.7 6-4.3 6-6.2 2-3 3-6.1 4-4.5 6-8 5-5.8 6-5.2 11-6.5 3-2.4 6-7.5 3-4.7 2-4.9 5-15.7 9-18.6 6-10 5-5.6 9-6.6 7-3.7 4-1.3 3-.5 3-.1 3,.6 8,2.9 8,4.4 11,8 3,1.3 3,.4 3-.5 3-1.3 9-6.6 1,0 4,2 2-.7 4-2.5 3-.9 11-.2 15-3.5 8-1.1 4,.1 4,1.5 5,3.6 7,6.7 12,13.3 3,2.1 3,.7 3-.6 16-6.2 4-2.3 8-5.6 5-2.3 28-8 4-.7 4,.2 8,1.9 5,.6 4,1.4 4,2.5 9,7.5 3,1.7 3,.8 8,.3 6,1.8 1,.5 5,4.5 12,11.2 2,1.1 2-.3 5-3.5 4-2.1 6-2.6 4-1 3,.1 2,.6 10,5.5 7,.3 7-.6 6,0 2-1 4-3.5 1-.3 1,0 3,2.5 3,3.5 3,4.4 4,6.9 1,.9 1-1.8 4-11.8 2-4.6 4-7.3 5-8.1 1-1.4 2-1.6 5-1 2,0 2,.5 2,1.1 5,3.9 3,3.2 5,6.8 8,7.3 6,7.3 2,1 4-.4 2,.5 2,1.2 3,2.9 5,6.4 5,7.9 2,4.4 3,10.3M610,132.1l4,14.2 3,6.9 1-.4 1-2.3 9-26.3 3-6.3 2-3 1-.9 1,.9 3-1.4 4,.5 4-.6 1,.4 1,1.2 2,4.1M657,137.3l3,7.8 1,1.7 1,.4 1-1.2 1-2.6 6-20.8 2-4.3 1-1.3 2-1.2 2-.4 5-.2 2,.3 2,1.1 1,.9 2,3.2M693,129.8l1-.9 3-14.3 1-2.5 1-1.3 1-.3 1,.2 2,1 2,1.7 4,4.9 1,.6 1-.2 1-1.4 3-6.9 1-1.5 4-3.9 1-.4 2-.1 2,1.1 2,2.3 5,8.8 6,13.3 5,14.3 1,1 3-.9 2,.6 5,3.3 4,4.1 1,.3 1-.9 1-2.1 5-17.1 3-8.4 2-3.4 1-.9 2-.5 1,.3 2,1.4 3,3.7 11,19.6"/>
<path d="M39,184.7l1,1.1 1,.5 6-1.3 6-2.6 5-3.5 3-2.8 3-3.5 2-3.1 3-6.1 5-6.2 5-7.1 5-5.9 6-5.5 5-3.3 7-3.9 3-2.6 6-7.4 2-3.3 2-5.1 3-10.8 2-5.7 10-20.7 3-5.4 3-4.5 5-5.2 9-6 7-2.9 7-1.5 3,0 4,.6 5,1.3 4,1.5 6,3.4 11,9.1 3,1.5 3,.6 2-.2 3-1 3-1.9 4-3.4 2-.9 5,1.6 2-.7 4-2.7 3-1.2 3-.4 9-.1 14-3.5 8-1 4,.2 4,1.5 5,3.7 7,7 12,14.4 3,2.4 3,1 3-.5 7-3.5 9-3.9 4-2.6 8-6.6 5-2.7 17-4.1 13-3.9 3-.4 3,.1 4,.8 5,1.7 4,.4 4,1.2 5,3.2 9,7.7 3,1.7 3,.6 8,.2 6,1.7 1,.6 17,16.3 2,1 2-.4 5-3.8 4-2.3 6-2.6 4-1 3,.1 2,.8 10,6.3 1,0 7-.2 7-1.1 5,0 2-.8 5-3.2 2-.3 2,1.3 3,3.5 7,11.3 1,.8 1-1.7 4-10.8 5-10.8 6-10.8 1-1.4 2-1.5 7-.6 2,.5 2,1.1 5,4.1 3,3.4 6,8.2 7,6.2 6,7.3 2,1.2 4-.6 2,.3 3,1.9 3,3.2 5,6.7 5,8.5 2,5.4 3,11.7M610,132.1l5,19.3 3,7.6 1,.5 2-5.1 8-25.2 3-7.1 3-4.6 1,.4 2-1.2 2-.6 5,.9 3,0 1,.6 1,1.2 3,7.1M657,137.2l4,11.5 1,2.1 1,1 1-.6 1-2 7-23.8 1-2.2 2-2.6 2-1.1 2-.5 5-.8 2,.2 2,1.2 1,1.2 3,5.9M694,131.4l1,1.2 3-13.3 1-2.7 1-1.4 1-.5 1,0 2,.9 2,1.8 4,5.8 1,.8 1,.2 1-1 3-7.9 2-3.5 2-2.3 2-1.7 2-.4 1,.2 2,1.4 2,2.6 5,9.5 6,14.9 3,10.1M743,146.1l1,3.3 1,2 1,.4 2-.8 2,.3 5,3.6 4,4.5 1,.7 1-.3 1-1.6 1-2.7 4-16.2 3-10.1 2-4.4 1-1.3 2-1 1,0 2,1.1 3,3.4 11,19.9"/>
<path d="M39,188.7l2,1.8 7-.9 5-1.9 5-3.4 4-4 3-3.8 4-8.1 10-14 5-6 4-4 4-3.1 12-7.3 5-5.7 3-4 2-4.1 5-17.5 8-17.2 6-11.8 3-4.7 3-3.5 4-3.3 8-4.4 7-2.3 8-1.3 4,.1 5,.6 4,1 3,1.2 3,1.6 3,2.3 10,9.5 3,1.6 3,.7 3-.4 2-.8 7-5.1 1-.2 3,1.1 2,.2 2-.9 5-3.6 3-1 12-.6 10-3 6-1.1 6-.5 4,.6 4,1.9 5,4.2 7,7.6 12,15.3 3,2.4 2,.6 2-.2 2-.8 6-3.6 10-4.9 4-3.2 7-6.7 2-1.6 3-1.6 4-1.1 14-2.6 13-4.1 3-.4 3,.2 3,.7 5,1.9 5,.8 4,1.3 5,3.4 8,7.1 4,2.3 3,.6 8,0 6,1.6 17,16.8 2,1.5 2,.2 6-4.5 3-1.9 7-3.3 4-1 3,.2 2,.9 10,7.1 7-.5 8-1.7 5-.1 7-2.7 2-.3 2,.5 1,.6 2,2.1 7,11.2 1,.7 6-13.2 5-12.5 5-9.3 1-1.3 2-1.4 7-.2 2,.6 2,1.2 5,4.3 3,3.5 6,8.4 7,6.3 6,7.3 2,1.2 5-.8 2,.6 4,3.4 5,6.5 5,8 2,4.5 2,6.5 7,29 2,6 2,3.7 3-8.3 6-20.7 4-10.8 3-5.4 2-.7 3-1.7 2,.1 7,2.2 2,2.1 3,7.6 8,24.2 1,1.6 1,0 1-1.5 1-2.7 6-21.3 2-4.4 2-2.2 2-1.1 6-1.9 2-.1 2,.7 2,2.3 1,1.8 3,7 1,1.6 1-1.8 3-11.2 1-1.8 1-1 1-.3 1,.2 2,1.3 2,2.4 3,5.1 1,1.2 1,.6 1-.6 1-2.1 2-6.3 2-4.4 4-4.8 1-.6 2-.2 2,1 2,2.3 4,7.4 6,15.1 4,13.5M745,154.1l1,3 1,1.5 3-.9 2,.7 5,4.1 4,5 1,.4 1-1 1-2.5 5-21.9 3-10.6 2-4 1-1.2 2-.8 1,.2 2,1.2 3,3.7 11,20.8"/>
<path d="M39,193.1l2,2 7-.2 5-1.5 5-3.2 4-4.1 3-3.9 4-8.3 10-14.7 5-6.2 4-4.1 5-4 11-6.5 6-6.6 2-2.8 2-4.2 4-15.1 2-5.6 13-26.6 3-4.8 3-3.7 4-3.2 8-3.9 7-1.8 10-1.6 6,0 4,.4 3,.7 3,1.3 5,3.9 7,7.7 3,2.8 3,1.9 3,.7 2-.1 2-.7 2-1.2 3-2.5 2-1 4,.7 3-.5 6-4.5 3-1.2 3-.5 9-.3 11-3.5 5-.9 6-.4 4,.6 4,2.1 5,4.3 8,9.3 11,15.1 3,2.8 3,.9 3-1 7-4.7 9-4.9 4-3.4 8-8.6 4-2.8 4-1.2 9-1.1 6-1.1 13-4.4 5-.2 4,1 5,2.2 5,.8 4,1.5 4,2.8 9,8.1 3,1.9 3,.7 9-.2 6,1.6 17,17.5 2,1.5 1,.3 2-.8 6-5 6-3.3 5-2 3-.4 2,.3 2,1 10,7.8 7-.9 8-2.2 6-.3 6-1.4 3,.4 2,1.1 3,2.7 3,3.7 3,4.8 1,.8 1-1.2 3-6.1 7-19.2 5-9.7 1-1.4 2-1.3 3,.5 4-.1 2,.7 2,1.2 5,4.5 3,3.6 6,8.8 7,6.3 6,7.3 2,1.3 1,0 4-1 2,.4 2,1.3 2,2 5,6.4 5,8.2 3,7.4 8,34.1 2,6.5 2,4.2 1-1.6 1-2.8 8-28.4 4-10.9 2-3.9 1-1 1-.1 2-1.8 2-.7 3,.6 6,3.5 2,2.5 2,5.1 8,25.9 1,2.1 1,.8 1-.9 1-2.3 5-18.3 2-6.2 2-3.8 2-2 7-3.2 2-.3 2,.5 2,1.6 1,1.4 4,8.7 1,.6 3-10.5 1-2.5 1-1.5 1-.6 1-.1 1,.5 2,1.8 5,8.6 1,.9 1-.1 1-1.5 3-9.8 2-4.2 2-2.8 2-1.9 2-.7 1,.2 2,1.4 2,2.5 4,8.1 5,13.4 4,14.1M747,162.5l1,2.4 1,.7 2-.8 1,0 2,1.2 5,4.7 3,4.2 1,.9 1-.3 1-1.8 1-3.3 5-24.7 2-7.6 2-5.2 1-1.6 2-1.4 1-.1 2,.9 3,3.3 2,3.4 10,19.9"/>
<path d="M39,197.9l2,2.2 5,.6 3,0 3-.7 2-.8 4-2.6 3-3 4-5.2 5-10.1 9-13.9 5-6.3 4-4.1 5-4.2 11-6.6 3-2.9 3-3.6 2-2.8 2-4.5 4-15.5 2-5.3 13-26.8 3-5 3-3.7 4-3.1 8-3.5 16-2.9 8-.8 3,0 3,.4 3,1.1 2,1.3 4,3.6 7,8.7 3,3 3,2 3,.8 2-.2 2-.8 5-3.5 1-.2 4,.4 2-.4 2-1.2 5-4.1 3-1.5 3-.5 9-.4 3-.8 8-3 5-1.1 6-.3 4,.6 4,2.2 5,4.6 8,9.7 11,16.2 3,3.1 1,.7 2,.5 3-.9 8-6.1 9-5.5 4-3.8 7-8.5 2-1.9 3-1.9 4-1 13-1.2 5-1.3 9-3.4 3-.6 3,.1 4,1.2 5,2.5 5,.8 4,1.7 4,2.9 9,8.4 3,1.7 3,.7 8-.5 7,1.7 17,18.2 2,1.4 2-.1 7-5.9 6-3.5 5-2 3-.3 2,.3 2,1.1 10,8.5 6-1 7-2.5 3-.7 5-.1 5-.5 3,.4 2,1.1 2,1.7 9,10.3 1-.8 2-3.7 2-5.3 6-18.7 2-4.7 3-5.5 1-1.4 2-1.1 3,.9 4,.1 2,.7 2,1.3 5,4.7 3,3.7 6,9.1 7,6.3 6,7.4 2,1.3 2-.2 3-1 1,0 2,.8 4,3.7 5,6.9 5,8.8 2,5.3 2,7.8 6,27.8 2,7.1 2,4.5 1-.7 1-2.7 8-29.9 4-11.9 3-6 1-.2 2-2.1 2-1.1 2,0 3,1.7 5,4.6 2,3.1 2,5.3 7,24.3 1,2.5 1,1.4 1-.3 1-1.7 7-24.9 1-2.4 2-2.9 2-1.4 6-2.6 2-.5 2,.1 2,1.3 1,1.2 5,9.3 1-1.9 3-10.5 1-2.2 1-1.2 1-.2 1,.3 2,1.7 2,3.2 3,6.2 1,1.4 1,.3 1-1 4-13.1 2-3.9 2-2.8 2-1.8 2-.4 1,.3 2,1.7 2,2.9 4,8.7 6,18.1 3,12.4M748,167.4l1,3.6 1,1.8 1,.2 2-.8 2,.9 5,4.9 4,5.7 1,.5 1-1.1 2-7.1 4-22 3-12.5 2-4.8 1-1.4 2-1.2 1,0 2,1.2 3,3.7 11,22.3"/>
<path d="M39,203l2,2.5 5,1.3 3,.3 3-.4 2-.7 4-2.6 3-2.9 4-5.4 5-10.6 9-14.4 5-6.4 4-4.3 5-4.3 11-6.7 5-5.4 3-4.1 2-4.7 3-12.3 2-6.6 4-7.6 10-21.1 3-5.1 3-3.7 4-3 7-2.7 11-1.6 17-3.2 3,.1 2,.5 4,2.4 4,4.1 9,11.8 2,1.9 2,1.2 3,.8 3-.8 5-3 4,.1 3-.9 2-1.3 5-4.4 4-2 12-1 10-3.9 5-1.4 6-.3 4,.7 4,2.2 6,6.1 8,10.6 11,17.1 3,2.9 2,.8 2-.3 2-1.1 7-6.3 7-4.5 3-2.3 3-3.1 8-10.4 4-3.3 4-1.2 9-.3 5-.5 5-1.4 9-3.6 3-.5 3,.1 4,1.3 5,2.9 5,.9 4,1.8 4,3.1 8,7.7 4,2.5 3,.5 8-.6 5,.9 2,.8 2,2.6 15,16.2 2,1.4 2-.3 6-5.5 6-3.8 5-2.3 4-.6 2,.3 2,1.3 10,9.2 2-.2 4-1.2 7-3 3-.8 8-.1 4,.7 2,1 3,2.7 7,8.8 2,2 1-1 1-1.9 2-5.2 5-17.5 3-9 4-7.9 1-1.3 2-1.1 4,1.6 4,.5 2,1 3,2.5 5,5.6 7,10.8 7,6.4 7,8.3 2,.5 4-1.5 1-.1 2,.6 3,2.6 4,5 6,9.9 3,7.2 2,8 6,29.1 2,7.6 2,5.1 1,.1 2-5.8 7-28.1 3-10.1 2-5.4 2-4.2 4-3.9 2-.9 2,.4 2,1.3 4,4.7 3,4.4 3,7.6 7,25 1,2.1 1,.3 1-1.3 1-2.5 6-21.7 2-4.2 2-2.3 2-1.4 6-3.2 2-.6 2,.3 1,.7 2,2.6 4,7.9 1-.2 4-14.3 1-1.7 1-.7 1,.1 1,.6 2,2.4 5,10.3 1,.9 1-.3 1-2.1 3-11.4 2-4.9 2-3.1 2-2.3 1-.6 2-.1 2,1.2 2,2.6 4,8.6 5,15.1 4,16.3M750,176.8l1,2.9 1,1 2-.6 1,0 1,.5 6,6.4 3,4.8 1,.9 1-.3 1-2 1-3.8 5-28.9 2-9 1-3.3 2-4.5 1-1.3 2-.8 1,.1 2,1.4 3,4.2 11,23.4"/>
<path d="M39,208.5l2,2.7 5,2 3,.7 3-.1 2-.5 4-2.5 3-3 4-5.6 5-11 8-13.5 5-6.8 4-4.5 5-4.7 4-3 8-4.9 4-4.2 4-5.6 1-2.2 2-6.6 2-8.9 2-6.1 4-7.2 11-22.9 3-4.7 2-2.4 4-2.9 6-2 3-.6 10-.8 14-3.8 4-.6 4,.7 2,1 2,1.6 3,3.4 7,10.4 3,3.8 3,2.6 3,1.1 3-.4 5-2.6 3,.1 3-.9 3-1.9 5-4.8 2-1.3 2-.8 3-.6 6-.1 3-.5 3-1 8-3.8 4-1.2 6-.4 4,.7 4,2.4 5,5.3 9,12.4 11,18.1 3,3.3 2,1 1,.1 3-1.3 8-7.8 9-6.6 4-4.5 8-11.1 2-1.9 2-1.3 4-1.1 9,.3 5-.5 5-1.4 9-3.8 3-.6 3,.3 4,1.4 5,3.1 5,1 4,2 4,3.2 8,7.9 3,2.1 2,.6 2,.1 8-.8 5,1 2,.8 2,2.8 14,15.5 2,2 1,.4 2-.4 6-5.8 6-4 5-2.4 4-.5 2,.4 2,1.5 9,9.1 1,.6 5-1.3 8-3.8 3-.9 7,.1 4,.9 2,1.1 3,2.6 8,10.4 2,1.8 1-1.1 2-4.8 7-26 2-6.1 2-4.6 2-3.6 1-1.2 2-1 1,.3 3,2 3,.4 2,.7 4,3.3 5,5.8 7,11.1 8,7.5 6,7.2 1,.6 1,.1 4-1.8 1-.2 2,.5 2,1.4 2,2.1 4,5.5 5,8.5 3,7.2 2,7.9 7,34.9 2,7 1,2.4 1,1.1 2-5.8 7-29.4 4-14 3-7.5 4-4.8 2-1.2 2,0 1,.6 2,1.9 3,4.3 3,5.4 2,4.6 2,5.8 6,22.2 1,2.5 1,1.1 1-.6 1-2.1 5-17.9 2-5.6 2-3.8 2-2.2 8-5.3 2-.5 1,.1 2,1.5 1,1.4 5,10 4-15.7 1-2.4 1-1.1 1-.2 1,.4 2,2.3 5,11.1 1,1.4 1,.1 1-1.4 4-14.9 2-4.6 2-3.1 2-2.1 2-.6 1,.2 2,1.6 2,3 4,9.2 5,16.5 4,18.2M751,182.2l1,4.2 1,2.2 1,.3 2-.6 2,1.1 5,5.7 4,6.3 1,.5 1-1.1 2-8 4-25.5 2-10.3 2-7.3 1-2.4 1-1.7 2-1.6 1-.1 2,1 3,3.8 11,24.2"/>
<path d="M39,214.4l2,3 6,3.1 4,.9 3-.4 2-1 3-2.3 2-2.1 4-5.8 5-11.4 8-14.1 3-4.4 5-5.9 6-6.1 4-3.1 7-4.6 2-1.7 3-3.6 3-4.3 2-3.9 1-3.1 4-16.2 5-8.8 11-22.7 3-4.7 2-2.4 3-2.3 3-1.2 6-1.3 8,0 4-.5 5-1.5 9-3.4 4-.9 2,.2 2,.7 3,2.1 4,4.8 7,11.3 3,4 3,2.6 3,1 2-.2 4-2 4-.2 2-.6 4-2.7 6-5.8 3-1.6 3-.7 6-.2 3-.4 4-1.6 7-3.8 5-1.7 5-.3 4,.8 4,2.4 5,5.6 9,13.2 12,20.6 3,3.1 2,.6 1-.1 2-1 9-9.6 9-7.1 4-4.9 7-10.5 2-2.2 2-1.6 2-1 2-.4 10,.5 5-.4 5-1.4 9-4 4-.6 2,.3 3,1.1 6,3.8 5,1.1 3,1.5 4,3.1 9,9.1 3,2 3,.6 9-1 6,1.1 1,.7 2,2.9 14,16.1 2,1.8 1,.4 2-.6 6-6 6-4.1 5-2.5 4-.5 2,.5 2,1.6 9,9.7 1,.6 4-1.2 9-4.7 3-1 2-.1 4,.3 4,1.2 3,1.7 2,1.9 3,3.6 6,8.3 2,1.7 1-1.1 2-5.3 6-24.4 3-10.4 2-4.9 2-3.6 1-1.2 2-.9 1,.3 3,2.8 3,.5 2,.8 4,3.4 5,6.1 7,11.4 2,2.3 6,5.2 6,7.3 2,.7 5-2.2 2,.3 2,1.3 2,2.1 4,5.4 6,10.7 2,5.1 2,7.9 7,36.5 2,7.5 2,4.5 2-5.3 8-34.7 4-14.1 3-7.1 4-4.8 2-.9 2,.6 2,1.8 3,4.9 3,6.2 4,11.3 6,21.6 1,3 1,1.6 1,.1 1-1.6 6-19.8 2-5.4 2-3.6 2-2.2 7-5.4 2-.8 1,0 2,1.2 1,1.3 5,10.5 1-1.4 3-13.5 1-3.1 1-1.7 1-.6 1,.2 2,2.2 2,3.8 3,7.7 1,1.9 1,.8 1-.6 1-2.7 3-12.7 2-5.4 3-5.1 2-1.8 1-.4 2,.4 1,.8 2,2.6 2,4 3,7.9 5,18 5,25.3 1,3.4 1,1.4 3-.4 1,.7 6,7.2 3,5.2 1,1.1 1-.3 1-2.3 1-4.1 5-32.9 2-10.4 2-6.8 2-3.7 1-.9 2-.3 2,1.2 2,2.6 3,6 9,21.2"/>
<path d="M39,221.7l2,3.4 6,4 4,1.4 3-.2 2-.8 2-1.4 3-3.1 4-5.9 5-12.1 7-12.7 3-4.7 4-5 7-7.7 13-10.8 3-3.6 3-4.6 3-6 5-19 5-7.9 11-22.1 3-4.7 2-2.3 2-1.7 2-1 6-1.1 3-.3 8,.4 4-.6 5-1.8 9-4.3 4-1 2,.2 2,.8 3,2.5 3,3.9 7,12.1 3,4.4 2,2.3 2,1.6 3,.9 2-.4 4-2 3-.2 3-1.1 3-2.1 6-5.6 3-1.7 3-.7 7-.2 3-.7 3-1.4 8-4.8 4-1.5 5-.5 3,.5 2,.8 2,1.2 2,1.8 4,5 9,14.1 12,21.6 3,3.5 2,1 2-.4 2-1.4 8-9.7 10-8.2 4-5 7-10.7 2-2.2 2-1.6 2-.9 2-.4 10,.2 5-.4 5-1.6 8-3.9 3-.8 2,0 2,.3 3,1.2 6,4.1 4,.8 4,2 4,3.3 8,8.4 2,1.7 2,1.1 3,.5 8-1.3 7,1.1 1,.9 1,1.8 15,17.7 2,1.8 1,.4 2-.8 6-6.3 7-4.9 4-1.9 2-.4 2,0 2,.5 2,1.7 9,10.4 1,.4 4-1.3 8-4.8 3-1.3 4-.3 3,.4 3,1 3,1.8 3,2.7 9,12.2 2,1.5 1-1.3 2-5.6 6-26 3-11 2-5.2 2-3.5 1-1.2 1-.6 1-.2 1,.4 3,3.5 5,1.6 4,3.6 5,6.3 6,10.2 2,2.9 7,6.2 6,7.3 2,.7 5-2.5 2,.2 2,1.2 2,2 4,5.5 6,10.8 2,5 2,8 7,37.9 2,8.2 2,4.8 1-1.1 2-6.9 7-32.3 4-15.1 3-8 4-5.5 2-1.3 2,.3 2,1.8 2,3.1 3,6.3 4,10.9 8,27.9 1,2.2 1,.6 1-1 2-4.9 6-19.5 2-4.2 3-3.6 7-5.9 2-.7 1,.2 2,1.8 5,10.8 1,.5 4-17.5 1-2.3 1-1 1,0 1,.6 2,2.9 5,12.5 1,1.4 1-.1 1-1.8 3-13 2-6.4 2-4.2 2-3 2-1.6 1-.3 2,.7 2,2.3 2,3.7 3,7.8 5,18.3 2,9.1 3,17.1 1,4.7 1,2.6 1,.7 2-.4 2,1.2 5,6.4 4,6.7 1,.5 1-1.1 1-3.4 7-45.6 2-8.3 1-2.9 2-3.2 1-.8 2,0 2,1.6 2,2.9 2,4.1 10,24.6"/>
<path d="M39,231.2l2,4 6,5.1 4,1.9 3,.1 2-.7 2-1.4 3-3 4-6 5-13 9-16.1 11-13 13-13.6 5-7.3 3-5.8 2-4.8 4-16.2 1-2.4 5-6.7 11-20.7 3-4.5 2-2.2 2-1.5 3-1 7-.5 9,1 4-.5 6-2.6 9-5.4 2-.8 2-.3 2,.2 2,1 3,2.8 3,4.4 8,14.6 4,5.2 3,2 4,.4 4,1.1 2-.3 3-1.6 3-2.6 5-5.2 4-2.7 3-.8 7-.3 3-.7 3-1.4 8-5.4 5-2.2 5-.3 4,1.1 3,2.2 2,2.1 5,7.2 8,13.6 9,17.3 3,5.1 3,3.2 2,.6 1-.1 2-1.3 9-11.7 2-1.9 6-4.4 3-3 3-4 6-9.6 3-3.4 2-1.5 2-.9 2-.4 11-.3 5-.7 4-1.4 8-4.1 4-.9 2,.2 3,1 4,2.6 2,2 5,1.2 3,1.4 4,3.2 9,9.6 2,1.7 2,1 3,.4 8-1.5 7,1 2,3.1 15,18 2,1.8 1,.3 1-.2 1-.7 6-6.6 7-5 4-1.9 2-.5 2,.1 2,.6 1,.8 10,11.9 1,.3 4-1.5 8-5.3 3-1.3 2-.4 2,0 5,1.2 3,1.5 3,2.5 10,12.5 2,1.3 1-1.3 2-5.6 7-31 2-7.3 2-5.4 2-3.5 1-1.1 1-.6 1-.1 1,.5 3,4.3 1,.6 2,.4 2,.9 4,3.7 5,6.6 6,10.5 2,2.9 7,6.2 6,7.3 2,.8 1-.2 4-2.5 2,0 1,.4 2,1.6 2,2.3 4,5.9 6,11.5 2,6.2 2,9.6 6,34.2 2,8.7 2,5.3 1-.2 2-6.7 8-37.9 4-15 2-5.4 3-5.2 2-2.3 2-.8 2,.8 2,2.4 2,3.6 3,6.7 3,8.6 7,25.2 2,4.8 1,1 1-.2 2-3.4 2-5.6 4-13.3 2-4.8 3-4.2 6-5.9 2-1.5 2-.4 2,1.4 2,3.4 4,8.8 1-2.4 3-13.9 1-3 1-1.6 1-.3 1,.5 2,2.7 2,4.5 3,8.4 1,2 1,.7 1-1.1 1-3.1 3-13.6 2-6 2-4 2-2.9 2-1.4 1-.1 2,1 2,2.7 2,4.1 3,8.6 5,19.7 5,27.7 1,3.8 1,1.6 3,.2 1,.7 6,8 3,5.3 1,1.2 1-.4 1-2.3 1-4.4 5-35.9 2-11.7 2-7.8 1-2.5 2-3 1-.6 2,.4 1,.8 2,2.6 3,6.3 9,23.3"/>
<path d="M39,242.2l2,5 6,6.2 4,2.5 3,.4 2-.5 2-1.3 3-2.9 4-5.9 5-14.1 8-14.3 2-2.7 5-5 9-11.9 4-5.6 6-9.6 4-7.6 4-9.2 5-18.5 1-1.8 3-2.7 2-2.6 11-18.6 4-5.2 2-1.6 3-1 9,.4 8,1.5 4-.4 3-1.2 3-1.7 10-7.4 2-.9 2-.4 3,.8 2,1.5 2,2.3 3,4.8 7,13.7 4,6 8,7.9 1,.6 2,.6 2-.2 3-1.8 9-9.1 3-2 3-.9 7-.3 3-.7 4-2.2 8-6 4-2 2-.5 3-.1 4,1.1 2,1.3 2,2 4,5.5 11,19.4 10,19.5 3,4.4 2,1.6 1,.4 2-.3 2-1.6 9-12.4 3-2.7 5-3.5 3-2.9 4-5.6 2-4.2 2-3.2 2-2.4 3-2.5 3-1.4 3-.8 11-.8 4-.6 4-1.5 8-4.3 4-1 3,.5 2,.8 4,2.7 2,2.2 5,1.3 3,1.5 4,3.4 9,9.8 3,2.2 2,.7 2,0 8-1.7 7,1.1 2,3.2 15,18.4 2,1.7 1,.3 2-1.1 6-6.8 5-3.8 5-2.9 2-.7 2-.2 2,.4 2,1.4 10,12.3 1,.3 3-1.3 8-5.6 3-1.7 3-.8 3,.1 5,1.4 4,2.3 3,2.9 7,8 2,1.5 1,.1 1-1.1 1-2.4 2-6.5 6-27.1 3-10.5 1-2.5 2-3.5 1-1 1-.5 1,0 1,.6 3,5.1 1,.9 4,1.4 4,3.9 5,6.8 6,10.8 2,2.9 7,6.1 6,7.2 2,1 2-.8 3-2.1 1-.2 2,.4 2,1.5 2,2.3 4,6 6,11.6 2,6.1 2,9.5 5,30.2 2,10.1 2,7.7 1,2.3 1,.7 2-6.4 8-38.9 4-16 2-6 3-5.8 2-2.7 2-1.2 2,.4 2,2.2 2,3.4 3,6.3 4,11.3 6,21.7 2,4.8 1,1.1 1,.3 1-.6 2-3.4 6-18.1 2-4.2 2-2.8 5-5.6 2-2 2-1.4 2-.1 1,.7 2,2.8 4,8.4 1-.2 4-15.9 1-2 1-.7 1,.2 1,1 2,3.5 5,13.4 1,1.3 1-.2 1-2.1 3-13.7 2-6.9 2-4.7 2-3.3 2-1.9 1-.4 2,.6 2,2.2 2,3.8 3,8.3 5,19.8 2,9.9 3,18.1 1,4.9 1,2.9 1,1 2,0 2,1.5 5,6.9 4,6.5 1,.4 1-1.1 1-3.2 2-12.2 5-36.6 2-9.3 1-3.2 2-3.9 1-.9 1-.4 1,.1 2,1.5 2,3.1 3,6.9 9,24.4"/>
<path d="M39,253.7l2,5.9 5,6.3 4,3.8 3,1.4 2,0 2-.7 3-2.3 2-2.2 3-4.4 5-15.3 5-8.6 4-6.1 4-2.6 2-2.3 7-11.8 3-5.7 10-22 5-12 3-8.6 2-7.9 2-5.8 1-1.1 3-1.9 3-3.3 11-15.9 2-2.3 2-1.5 3-1 2,.2 4,1.2 4,.4 8,2.1 3,0 2-.6 3-1.5 3-2.2 10-9.1 2-1 2-.4 3,.9 2,1.7 2,2.6 3,5.2 6,12.5 9,17.4 3,4 3,1.8 2,0 3-1.4 8-8 3-2.4 4-1.5 7-.3 4-1.1 3-1.9 8-6.8 4-2.3 3-.9 2-.1 3,.6 2,1.1 3,2.6 4,5.7 23,42.3 3,3.6 2,1 2-.3 2-1.7 7-10.1 3-3.4 7-4.8 3-2.8 2-2.5 3-6.5 2-3.3 4-4 4-2.2 8-2.3 9-1.2 3-.7 3-1.3 8-4.5 4-1 2,.2 3,1.2 3,2 3,3.2 5,1.3 3,1.6 4,3.6 8,9.1 2,1.8 2,1.3 2,.6 2-.1 6-1.6 2-.2 7,1.1 2,3.4 15,18.6 2,1.6 1,.1 2-1.2 6-6.8 5-3.9 5-2.9 2-.7 2-.1 2,.3 2,1.6 10,12.7 1,.2 3-1.4 8-6.1 3-1.9 2-.7 3-.3 5,.6 4,1.1 3,1.9 7,6 2,1.2 2,.1 1-1 1-2 2-5.6 6-25.4 3-10.5 1-2.5 2-3.3 2-1.3 1,.2 1,.6 2,4.4 2,2.7 3,1.1 2,1.4 4,4.5 5,7.3 5,9.3 2,3 2,2 5,3.9 6,7.1 2,1 1-.2 4-2.6 1-.3 2,.3 2,1.5 2,2.2 4,6.1 6,11.8 2,6 2,9.4 5,30.9 2,10.5 2,7.7 1,2.4 1,1.5 1-2.5 2-7.6 7-35.1 4-16.7 3-9 2-4.1 2-3 2-1.7 1-.1 1,.3 2,1.7 6,9.9 3,7.6 5,17.6 2,5.9 2,3.6 1,.6 1-.1 1-.8 2-3.3 5-13.6 3-6 8-9.8 3-2.3 2,.1 1,.8 6,10 1-2.2 3-10.7 1-2.3 1-1 1,.1 1,.9 2,3.2 5,13.8 1,1.9 1,.5 1-1.2 1-3.2 3-13.9 3-8.5 2-3.9 2-2.4 2-.9 2,.9 2,2.7 2,4.2 4,12.6 4,17.3 5,28.4 1,3.8 1,1.8 3,1.2 1,.8 6,8.2 3,4.8 1,1 1-.4 1-2.1 1-4 6-43.4 2-10.8 2-6.6 2-3.5 1-.7 1-.2 1,.3 2,2 2,3.4 2,4.9 9,25.4"/>
<path d="M39,264.1l2,6.5 5,7.3 4,4.6 3,1.8 2,.2 3-.9 3-2.3 4-4.8 5-15.9 8-11.9 2-1.3 2,.1 1-.5 2-2.8 8-19.2 8-22.9 9-24.1 5-15.9 2-4.2 3-.9 3-2.1 4-4.3 7-8.6 2-2 2-1.4 2-.7 2,.1 2,.7 4,2.2 4,.7 8,2.6 2,.2 2-.3 3-1.3 3-2.2 11-11.7 3-1.9 2-.3 2,.5 2,1.4 2,2.4 2,3.3 6,12.7 7,19.7 3,7.1 3,5.2 3,2.9 2,.7 3-.7 3-2 6-5.5 4-2.2 3-.6 7,0 3-.9 4-2.8 7-6.7 3-2.2 2-1.1 3-.8 4,.3 2,.9 2,1.6 3,3.5 3,4.8 7,12.6 16,26.5 3,3.8 2,1.5 1,.3 2-.4 2-1.6 6-8.1 3-3.2 7-4.2 3-2.4 1-1.5 4-8.5 2-2.7 3-2.5 3-1.7 11-4.1 9-1.9 3-1 10-5.9 2-.7 2-.3 2,.2 3,1.2 3,2 3,3.5 4,.8 4,2.1 4,3.7 8,9.3 2,1.9 2,1.2 3,.5 6-1.6 3-.4 6,.6 1,.5 2,3.7 15,18.1 2,1.5 1,0 2-1.2 5-5.6 5-4.1 5-3.2 4-1.2 3,.4 1,.6 2,2.2 9,11.8 1,.1 3-1.7 9-7.4 3-1.8 2-.7 10-1.8 2,0 2,.5 6,3 3,.4 2-.5 1-.9 2-3.4 2-5.1 6-22.2 2-6.2 2-4.1 1-1.1 1-.6 1-.2 2,1.1 2,4.9 2,3.3 4,1.8 4,4.2 6,8.7 6,10.8 2,2.3 6,4.3 7,7.5 1,.4 1,0 5-2.7 1,0 2,1 3,3.1 3,4.5 7,13.9 2,5.9 2,9.2 5,30.9 2,10.4 2,7.3 1,2.2 1,1.2 1-1.4 2-6.6 8-39 4-15.5 2-5.9 2-4.3 3-5 1-1.2 1-.5 1,0 2,1.2 7,7 3,6.6 6,18.7 2,3.6 1,1 1,.2 2-1.1 2-2.7 5-10.8 3-4.9 8-10.1 2-1.8 1-.5 2,.2 1,.7 5,6.9 1-.1 4-8.7 1-1 1,0 1,.7 2,3.2 6,15.4 1,1.3 1-.2 1-1.8 4-16.8 3-7.8 2-3.6 2-2.2 1-.5 2,.5 2,2.1 2,3.8 4,12 5,21.5 4,22 2,7.1 1,1.3 2,.9 2,1.8 9,11.8 1,.3 1-1 1-2.5 1-4.2 5-35.8 2-11.9 2-7.9 1-2.6 2-2.9 1-.5 1,.1 1,.5 2,2.4 1,1.8 3,7.5 9,26"/>
<path d="M39,272.9l2,6.2 7,10.5 2,2.2 2,1.5 2,.9 2,0 2-.6 2-1.1 2-1.6 3-3.2 5-14.7 6-7.6 2-2.2 1-.5 3,.9 1-.7 1-1.8 7-21.6 12-39.9 11-32.1 2-3.7 1-.7 3-.4 3-1.4 12-10.5 2-1.1 2-.5 3,.6 2,1.3 3,2.6 2,1 4,.7 7,2.3 3,.2 2-.4 3-1.6 3-2.6 8-9.4 3-3 3-1.8 2-.2 2,.8 2,1.7 2,2.5 3,5.4 3,8 6,20.3 4,12 4,9.1 2,3.2 2,2.2 2,1.2 3,.3 3-1 6-3.4 3-1 3-.1 6,.8 3-.4 2-.9 3-2.3 7-7.2 4-3.3 3-1.5 2-.5 2-.1 2,.3 3,1.6 3,3 10,14.7 5,4.9 8,9.5 9,13.3 2,2 2,1 1,0 2-.8 7-6.3 9-4.2 5-9.5 2-2.5 2-1.7 3-1.6 7-2.7 7-3.9 11-3.2 10-5.5 4-1.6 2-.2 2,.6 3,1.7 1,.8 2,2.8 1,.6 4,.7 4,2.1 4,3.8 8,9.4 2,1.8 2,1.2 3,.5 8-1.8 7,.6 1,.7 1,2.3 1,1.4 6,6.7 9,9 2,1.3 1,.1 2-.9 6-5.4 8-5.2 3-1.3 3-.3 2,.4 1,.7 11,13.7 1-.1 3-1.9 10-9.1 9-6 6-5.8 1-.6 2-.5 5,.5 2-.3 3-1.1 2-1.4 3-3.7 2-3.7 6-16.3 2-4.2 1-1.3 1-.6 2,.2 2,2 2,5.2 2,3.5 4,2 3,2.9 6,8.2 6,9.8 2,2.3 5,2.3 2,1.4 6,5.7 2,1.5 2,.3 4-1.2 2,.7 3,3 3,4.4 3,5.5 4,8.7 3,8.2 2,8.7 5,28.8 2,9.2 2,5.7 1,1.4 1,.6 1-.9 2-5 4-16.6 3-10.8 3-13.5 2-7.1 3-8.6 3-5.5 4-4.7 1-.9 3,.2 1-.3 3-1.5 1,0 1,.6 1,1.2 2,4.4 5,14.1 2,3.5 2,1.4 2-.3 2-1.6 2-2.4 5-7.4 9-11.4 3-2.8 2-.6 1,.1 2,1.3 4,4.3 1-.1 1-.5 2-1.9 1-.4 1,.3 1,.8 3,5 5,12.2 1,1.6 1,.7 1-.6 1-2.1 4-14 3-6.8 3-4.3 1-.6 2-.1 2,1.7 2,3.2 2,4.7 2,6 4,15.2 5,23 2,6.7 1,1.6 4,3.1 8,8.2 2,1.2 1-.2 1-1.3 2-6.1 6-35.7 2-8.8 1-2.9 2-3.6 1-.8 1-.2 1,.3 2,2.1 3,6.1 7,20.8 4,9.8"/>
<path d="M39,279.7l2,5.4 7,10.8 2,2.4 2,1.6 2,.9 2,.2 2-.5 2-1 2-1.5 3-2.9 5-12 5-5.6 3-2.9 1-.2 1,.5 1-.1 1-.7 1-1.9 1-3.2 18-64.5 11-32.9 1-2.1 1-1.2 1-.4 3,.6 3-.5 4-2 8-5.4 2-.8 2-.3 2,.4 2,1.1 5,5.2 2,1.3 4,.5 7,2.3 4,.1 3-1.2 4-3.2 11-12.9 3-2 2-.4 2,.5 2,1.4 2,2.4 2,3.7 3,9 9,32.7 4,12.3 3,7.3 2,3.8 2,3 2,2.1 2,1.4 3,1.1 9,.3 9,3.2 3,.1 2-.8 3-2.2 9-9.7 4-3.4 2-1.2 3-1 3-.2 2,.5 3,1.6 9,6.7 2,.4 4-.8 1,.2 6,3.6 2,1.6 2,2.6 3,4.9 9,17.6 2,2.8 1,.8 2,.9 9,.5 3-.1 5-7.9 3-3 11-4.9 6-5.2 3-1.9 10-3.3 10-5.2 7-2.4 2,.5 2,1.2 1,.9 2,2.9 1,.4 5,.3 4,2.1 3,2.7 8,9 4,3.2 3,.7 8-.7 6,1.2 1-.2 3,4.2 5,4.1 2,.6 4,.2 5,2.6 3,.9 2-.1 7-1.7 9-3 2-.1 2,.4 1,.3 2,1.9 7,9.3 3,1.8 4-2.9 5-5 9-11.2 4-6.2 5-10.3 3-4.6 2-1.4 6-1.6 6-4 6-5.5 6-8.5 1-.9 1-.2 1,.6 2,2.8 4,10.9 2,3.8 1,.7 2,.7 2,1.3 8,8.9 5,5 2,1.1 1,0 4-1.4 2,.5 6,3.6 5,4 4,1.8 3,3.1 3,4.8 3,5.8 7,17.4 3,9.7 3,11.7 4,17.7 1,2.6 1,1.7 1,.9 2,0 1-.5 1-1.1 3-4.8 2-5.1 1-1.1 2-.5 4-17 5-16.5 7-11.1 7-15.7 1-1.4 1-.5 1,.4 2,3.2 4,10.5 2,4.3 2,2.6 2,.7 3-1.1 4-3 5-5.1 9-11.2 2-1.7 2-.8 1,0 2,.8 4,3.7 5,3.9 3,4.7 6,12.2 2,2.9 1,.7 1-.2 1-1.2 5-10.4 3-4.6 2-1.7 1-.2 2,.5 2,1.7 2,2.8 3,6.3 3,8.8 6,20 2,5.1 2,2.7 10,7.5 3,1.7 1,.1 1-.4 1-1 2-4.5 6-26.6 2-6.6 2-4 1-1.1 1-.4 1,.1 2,1.5 2,3.2 2,4.6 6,16.6 2,4.4 2,3.3"/>
<path d="M39,285.4l2,4.3 3,5 5,7.4 2,2 2,1.3 3,.6 2-.5 2-1 4-3.3 2-2.6 4-7.1 6-6.2 2-1.7 1-.2 1-.8 1-1.5 2-5.5 19-69.8 10-30.2 1-2.1 1-1.1 1-.2 4,2 3,0 4-1.2 8-3.5 2-.3 2,.2 2,1 2,1.6 5,6.3 2,1.6 5,.5 7,1.9 3,0 3-1.1 4-3.1 9-10.9 3-3.1 3-1.7 2-.1 2,.8 2,1.7 1,1.5 2,4.5 3,10.2 11,42.2 4,12.3 4,9.4 3,5.1 4,4.9 3,2.6 7,5.3 8,7.4 2,1.3 2,.4 2-.4 2-1 3-2.3 3-3.3 9-11.9 3-3.1 3-2.4 4-2.5 7-3.5 4-1.5 2-1.4 4-4.2 2-.6 5,1.5 2,1.1 2,2.1 3,4.7 3,5.9 3,7.2 7,20.9 3,7.6 5,9.6 3,4.4 2,2 2-1.4 2,0 1,.6 3-2.1 6-1.7 3-1.6 3-2.6 2-2.3 4-6.5 4-3.3 3-1.4 7-2.4 8-3.9 6-2.3 3-2 1,0 1,.1 1,1.1 3,4.4 6-4.2 3,0 3,.7 7,5.8 7,6.8 10,5.3 5,3.1 1,.5 1-.1 2,2.1 4-1.3 1-.6 2-2.9 3-6.5 2-2.6 2-.8 3,.2 3,2 10,10.1 3,1.8 6,2.3 4,2.2 2,2.5 6,8.9 2,.8 2-.1 4-5.8 6-10 3-5.7 7-16.6 7-20.1 3-6 2-1.9 5-2.1 2-1.3 8-6.2 5-2.4 4-1.2 1,.4 1,1.2 1,2.3 2,7.6 3,18.4 2,6.9 1,1.4 1,.6 3,.6 5,3 2,.4 2-.6 1-.6 4-3.6 2-2.3 3-4.9 2-2.1 1-.4 1,.2 6,1.8 3,2.4 6,7.5 2,3.4 2,4.4 6,15.3 6,20.1 2,8 2,4.4 1,1.4 1,.5 1,1.3 3,8.4 1,1.3 1,.5 1,0 4-1.1 5-.7 1,.7 1,6.1M646,355.9l2-9 3-10.2 3-19.1 4-7.9 2-5.1 2-7 5-23.2 2-5.6 1-1.4 1-.3 1,.7 1,1.6 6,14.1 2,2.6 2,.9 2-.4 2-.8 6-3.5 3-2.9 8-10 3-2.7 2-.8 1,0 2,.7 2,1.8 4,5.6 9,16.8 3,4.8 2,2.5 2,1.5 1,.2 10-3 4,.3 3,1.2 2,1.8 2,3.1 7,15.1 3,4.8 3,2.4 11,6.2 2,.2 1-.4 2-2.1 2-4.3 6-17.3 2-3.5 1-1 2-.9 2,.7 2,2.1 2,3.5 6,13.6 2,2.9 3,2.1"/>
<path d="M39,290.8l7,11.5 3,4.2 3,2.8 3,1.1 3-.6 4-2.5 11-11.4 5-4.6 2-3.9 1-3.1 21-77.4 9-27.5 1-2.4 1-1.4 1-.4 4,2.8 3,.9 4-.3 8-2.2 2-.1 2,.3 2,1 2,1.7 3,3.8 3,4.6 2,1.7 1,.2 4-.2 6,1.4 3,.3 3-.7 4-2.6 4-4.1 7-8.8 3-2.7 3-1.3 2,.1 1,.6 1,1.2 1,1.7 3,8.6 4,14.9 10,40.7 4,13.3 3,8.1 4,8.2 4,6 10,12 6,8.1 3,2.6 3,1.2 3,.1 4-1.2 2-1.5 3-4.6 10-19.8 5-8.1 9-12.2 6-5.3 4-5.2 1-.9 2-.4 5,1.4 3,2.3 3,4.3 3,5.7 3,7 2,5.8 17,61.7 1,2.8 3,4.1 2,16M350,357.3l3-4.3 2-4 2-12.4 1-4 1-1.8 3-3 3-1.8 10-3.1 7-2.8 3-1.7 3-3.2 3-6.8 1,0 3,6.7 1,.6 3-12 2-5.8 2-3.4 4-3.4 2-.2 1,.4 5,2.5 2,1.7 7,9.1 2,3.1 5,8.9 6,12.5 1,1.2 2-1.3 1-2.1 2-7.6 3-8.1 5-18.9 2-3.9 1-.9 2-.9 2,.1 1,.4 1,.9 2,2.7 3,5 8,15.4 11,17.3 6,12.7 3,3.8 1,0 2-2.5 2-6.4 4-10.8 7-17.7 6-18.1 8-25.9 2-4.7 2-2.9 2-1.5 5-2.5 7-6.1 3-1.9 4-1 2,0 2,.6 1,1 1,1.9 1,3.1 2,10.9 1,10.6M562,311.7l1-.1 3-2.5 3-1.6 2-2.1 1-1.6 3-7.3 5-14.2 7-15.2 1-1.1 1-.6 7,1.2 2,1.2 2,2.4 5,7.6 3,6.5 7,20.1 7,28.4M624,340.7l1,.1 1-.3 2-2.7 2,4.6 2,2.5 1,.4 4-.4 3,1.4 4,4 1,8.4M654,354.7l1-8.3 4-11 3-11.4 6-35 1-4.4 2-4.8 1-.8 1,.3 1,1.2 6,13.7 2,2.7 2,1 2-.3 8-3.7 3-2.6 7-8.6 3-3.1 3-1.8 2,0 1,.4 2,1.8 2,3.4 6,12.5 4,7 3,3.9 13,14.7 2,1.5 2,.3 2-.8 4-3.1 2-.6 1,.3 2,1.8 6,9.6 3,3.7 2,1.5 7,2.8 5,2.5 3,.6 2-1 1-1.1 2-3.5 4-8.9 2-3.6 3-3.2 2-.8 2,.5 2,1.6 2,2.8 4,7.2 2,2.9 2,1.6 2,.6"/>
<path d="M38,296.7l8,12.7 3,4 3,2.7 3,.9 3-.7 3-1.9 5-4.9 4-2.9 6-6.2 2-4.1 1-3.1 23-84.5 9-27.5 1-1.9 1-.9 1,.1 4,3.7 3,1.3 4,.3 8-.8 2,.3 2,.7 2,1.5 2,2.3 7,10.6 2,1 3-.8 2-.1 8,1 2-.3 2-.8 2-1.2 3-2.6 11-12.8 3-2 2-.3 1,.6 2,3 4,10.9 4,14.5 10,40.6 3,10.5 3,8.9 3,7.3 4,7.6 10,14.4 2,2 1,.5 2,0 2,.4 6,3.3 3,1 4-.2 2-.5 1-.7 1-1.1 2-3.4 9-20.4 3-6 5-8.6 7-10.1 2-2.1 4-3.2 4-4.7 2-1.5 2,0 5,1.7 3,2.4 4,6.1 4,8.4 3,8.4 3,10.2 7,27.2 6,25.5 3,9.8 1,6.6 1,14.3M361,359l1-2.4 2-1.1 3-.8 8-.7 4-.8 4-1.7 2-1.7 2-3 2-5.4 3-14 1,1.2 3,7.3 1-2.6 3-18.6 2-7.1 2-3.8 3-3.5 2-1.2 2,.4 4,1.7 2,1.2 2,2.1 6,8.3 6,12.1 7,19.3 1,1.3 2-3.5 3-15.4 3-10.5 3-13.5 2-7.1 2-3.9 2-1.6 2-.3 2,.7 1,.9 4,6.4 8,17 12,24 5,12.5 4,6.4 1,.1 2-3 2-6.4 9-22.7 8-24.5 7-23.4 3-7.6 2-2.9 2-1.6 5-2.7 7-6.5 3-2.1 2-.8 2-.3 3,.4 2,1.5 1,1.9 1,3 2,10.6 1,10.4M564,334.5l2-5 4-6.3 2-4.4 7-23.9 3-8.7 5-11.4 2-2.9 1-.6 7,1.2 2,1.1 2,2.3 5,7.6 3,6.3 5,13.6 2,6.2 3,11.7M625,345.8l1,.3 1-.3 1-1 1-1.9 2,4 2,2.2 1,.6 4,.8 2,1.5 2,2.5 1,2.1 1,6.1M659,355.6l3-10.7 2-9.6 6-36.3 2-6.9 1-1.4 1,0 1,.9 6,13 2,2.8 2,1.4 3-.8 8-3.9 3-2.8 6-7.1 3-2.9 2-.9 1-.1 2,.6 2,1.7 2,2.8 7,13.6 3,4.9 3,3.4 7,6.6 3,4.2 5,8.5 2,2.1 1,.5 1-.1 1-.5 5-5.4 1-.6 1-.1 1,.3 2,1.8 6,8.2 3,2.7 2,.8 6,1.1 7,3.3 2,.3 2-1 2-2.6 5-10 3-4.7 3-2.3 2-.3 2,.8 2,1.9 5,7.3 2,2.2 2,1.1 2,.4"/>
<path d="M38,304.2l10,15.4 3,3.1 3,1.4 3-.2 3-1.7 6-5.9 4-2.2 4-4.4 1-1.8 2-5.8 7-26.4 18-64.6 7-21.5 2-3.9 1-.4 3,1.8 2,.7 3,.2 5,1.1 8,.7 3,1.1 2,1.7 2,2.4 8,13.7 1,.8 1,.1 5-2 9,.3 2-.5 2-1 5-4.2 10-11.6 2-1.5 1-.5 1,.1 1,.6 2,2.8 2,4.3 3,8.4 4,14.1 10,40.3 6,19.7 3,7.6 3,6.1 7,11.2 1,1 1,.4 1,0 4-2.3 3-.5 2,.7 6,3.3 2,.7 4,0 3-.9 1-.9 2-3.1 10-22.6 3-5.8 5-8.3 6-8.1 2-2 5-3.3 5-4.5 2,0 5,1.7 3,1.9 4,5.2 4,7.6 3,7.7 3,9.6 5,18.6 11,45.4M384,360.3l3-3.8 2-4.6 2-7.9 2-10.9 4,7.2 3-17.7 2-8 1-2.8 1-2 3-3.4 2-1.6 1-.3 1,.1 5,2.1 2,1.3 2,2.1 6,7.9 6,11.6 7,18.4 1,.5 2-3.7 2-11.6 4-14.8 3-13.8 2-6.9 1-2.3 1-1.3 2-1.4 2-.3 1,.2 2,1.6 4,6.5 8,17.2 12,24.2 4,9.8 4,6.6M496,360.2l2-1.8 2-3.9 2-2.8 3-6 3-6.9 5-14.4 12-38.4 2-4.7 2-2.9 2-1.6 5-2.9 7-6.9 3-2.3 2-.9 2-.4 3,.3 2,1.3 2,4.4 2,9.5 1,8.7M565,339.4l2-4.8 4-6.5 2-4.2 2-5.9 6-21 2-5.6 5-11.1 1-1.8 2-1.7 1,0 6,1.4 2,1 2,2.2 5,7.3 3,6.1 5,13.1 2,6 3,11.2M626,348.9l1,.7 1,.2 1-.4 1-1.1 4,4.9 4,2 2,1.7M664,356.5l7-42.9 2-7.9 1-2.1 1-.7 1,.4 1,1.3 4,8 2,3 2,1.6 2,.5 5-.9 4-1.7 3-2.3 7-7.3 3-1.8 2-.4 3,1.1 3,3.1 10,17.4 3,3.3 6,4.1 3,2.9 3,4.5 5,9.2 2,2.1 1,.3 1-.2 2-1.7 3-3.4 2-1.1 1,.1 2,1.4 5,6.2 3,2.8 3,1 5-.1 2,.3 3,1.2 4,2.4M790,359.7l2-2.8 5-10.2 2-3.3 3-3.1 2-1 2,.1 2,1.2 6,7 2,1.7 2,.8 2,.4"/>
<path d="M38,312.4l10,14.7 3,3.1 3,1.4 2,0 3-1.3 2-1.7 5-5.2 4-1.8 3-3.8 2-5.8 6-24 20-70.7 7-21.7 1-2 1-1 1-.2 4,3.3 2,.7 4-.2 4,.4 5-.7 3,.7 2,1.1 2,1.8 3,4.4 7,14.3 1,1.5 1,.8 1,.1 4-2.9 2-.8 2-.4 6-.1 4-1.4 5-4 10-11.4 2-1.2 1,0 2,1.7 2,3.1 4,9.3 5,16.6 9,36.1 5,17.9 5,13.8 3,6.4 3,5.3 1,1 1,.5 1,0 8-4.9 3-.7 2,.5 8,4.2 3,.3 4-.7 2-1.9 2-3.6 9-20.4 3-5.8 5-8 6-7.7 3-2.6 4-1.6 5-3.3 2,0 3,1.3 4,1.3 2,1.4 2,2.2 4,6.1 4,8.8 3,8.9 7,25.5 8,33.6 1,4.8 1,11.1M390,357.9l4-18.5 2,1.1 2,2.6 2-13 3-11.9 2-4 3-3 2-1.3 2,.1 6,2.7 2,1.7 6,7.3 3,4.6 4,7.6 7,16.9 1-.2 2-4.2 2-11.2 4-14.8 4-17.5 2-5 1-1.3 2-1.3 2-.2 1,.3 2,1.7 4,6.6 7,15.2 13,26.2 3,7.2 2,3.6 3,4.2M501,360.5l2-.8 2-2.4 4-8.2 5-14.1 11-34.9 3-7.5 2-3 7-4.6 8-8.3 3-2.2 2-.7 2-.3 3,.7 2,2.3 1,2.4 2,8.2 1,7.1 1,13.8M566,342.3l2-4 4-6.1 2-4 2-5.5 5-17.3 3-8.9 5-10.8 2-2.8 1-.6 1-.1 4,1 4,1.6 2,2.1 6,8.8 3,6.5 5,13 6,21.4M623,336.6l3,10.9M627,351.3l1,1.5 1,.7 1,.2 1-.4 1,.6 2,2.6 4,2.9M668,354.6l3-20.6 2-10.8 1-3.9 1-2.5 1-1.3 1-.2 1,.7 4,6.7 2,2.6 1,.7 2,.6 2-.4 9-3.6 9-5.9 2-.7 2-.1 3,1.1 3,2.8 3,4.4 6,10.5 3,3.8 3,2.2 6,2.9 3,2.8 3,5 4,8.9M756,360.4l1-1.5 2-1.5 2,.3 2,1.5M798,358.6l2-4.2 2-2.9 3-2.6 2-.6 1,0 2,1 7,6.2 2,.9 2,.4"/>
<path d="M38,321.8l11,12.6 3,2.1 2,.7 3-.3 3-1.7 2-.2 4-4.3 4-1.6 1-1.3 2-5.1 5-22.1 5-18.1 10-33.6 9-31.8 4-12.4 2-4.5 1-.8 1,.1 4,4 3,1.5 4-.2 5,.5 3-.8 6-2.6 2,.2 1,.8 2,3.3 7,16 1,1.5 1,.7 1,0 1-.7 3-3.5 3-2.1 2-.6 6-.6 3-1.2 4-2.9 5-5.2 2-1 1,0 4,1.2 3,2.3 3,4.1 3,6.3 3,8.4 3,10.2 10,39.7 4,14.1 3,9 3,7.5 2,3.7 1,.8 1,.3 1-.2 11-6.2 3-.9 2,.4 7,3.9 2,.7 3,.2 3-.6 2-1.5 2-3.2 9-20.1 4-7.5 5-7.5 6-6.7 3-1.8 4-.6 5-1.8 1,.2 4,2.1 4,1.2 3,2.2 4,5.2 3,5.4 3,7.5 4,12.7 6,22.3 6,25.6 1,5.1 1,12.1M393,354.2l1-6.3 1-2.7 2-1.3 1,1 1-1.1 2-11.5 1-4.3 2-6.1 2-3.2 3-2.6 2-1 2,.3 6,2.8 2,1.7 6,6.8 3,4.4 4,7.1 7,15.5 1-1.2 2-4.3 2-11.1 3-10.7 5-21.4 2-4.6 1-1.2 2-1.2 2-.2 2,1.1 1,1.2 3,4.8 23,47.8 2,3.8 3,4.2M510,360.6l6-18.1 8-25.7 5-12.9 1-1.7 2-2.2 4-2.3 2-1.6 9-9.7 2-.9 3,.4 4,2 2,2.2 1,2.1 2,6.6 1,5.1 1,11.4M566,344.4l1,.8 1-1.3 7-11.4 3-8.1 5-17.1 2-5.7 3-6.6 3-5.5 2-1.7 1-.1 6,1.7 3,1.9 5,6.7 3,4.9 5,11.6 3,8 9,31.3M628,353.8l1,2.1 1,1.2 3,1.5 1,1.3M671,357.5l1-8.5 2-11.7 1-4.3 1-3 1-1.9 1-.6 1,.2 5,6.6 1,.9 2,.8 2-.4 5-2.9 11-4.2 4-.9 2,.3 2,.8 2,1.4 2,1.9 3,4 7,11.5 3,3.4 3,1.6 5,1.3 2,1 2,1.8 2,3.1M805,360l2-1.9 2-.8 1,0 2,.5 4,2.7"/>
<path d="M38,331.2l10,8.6 3,1.9 2,.7 3,0 5-2 2,1.1 3-3.3 3-1.1 1-.8 2-6.3 5-24.1 5-18.2 11-35.9 10-34.3 3-8.7 1-1.8 1-.8 1,.3 5,5.3 3,1.6 4-.1 5,.7 3-.6 5-1.9 2-.2 1,.3 2,1.9 6,11.2 3,4 1,.5 1-.2 1-1 4-6.2 3-2.5 3-.9 4,.6 2-.1 2-.9 3-2.1 2,0 3,1.2 6,1.5 2,1 2,1.5 2,2.4 2,3.2 4,9.4 5,16.6 9,35.5 4,14.3 4,11.5 1,1.6 1,1 1,.4 2-.2 3-.9 10-5.3 3-.9 3,.7 8,4.3 4,.2 3-.8 2-2 1-1.6 10-21.8 4-7 3-4.3 3-3.6 4-3.8 2-1.3 2-.3 4,.4 4-.2 2,.9 3,2 5,1.3 2,1.2 4,4.1 4,6.6 3,7.2 4,12.4 5,18.1 6,25.3 1,6.5 1,12.8M394,362.5l1-9.6 2-4.3 1-1 1,.1 1-3 2-10 2-6.6 1-2.2 2-2.5 3-2.4 2-.7 2,.5 6,2.9 2,1.7 6,6.4 3,4 3,4.8 8,15.3 2-3.1 1-2.7 2-11 3-10.6 5-21.2 1-2.6 2-3 2-1.1 1,0 2,.4 1,.8 4,6.1 8,17.1 15,30.3 4,6.2M515,360.2l10-33.3 4-10.5 3-4.2 6-4.1 7-7.2 3-1.7 2-.2 2,.6 5,2.8 2,2 2,3.9 2,6.5 3,25.9M567,347.5l1,.9 1-1.1 7-10.5 3-7.5 5-16.8 3-8.1 2-4.3 3-5.1 2-1.6 1-.2 6,1.9 3,1.9 5,6.4 3,4.7 3,6.4 5,12.4 8,26.8 2,5.1 1,1.6M674,359.3l2-12.5 2-6 1-1.1 1-.2 1,.5 4,4.6 2,1.1 1,.1 2-.8 4-3.1 3-1.7 6-1.3 4-.5 2,.2 2,.7 3,1.9 2,1.8 4,4.9 9,13.8"/>
<path d="M38,340.7l10,5.5 5,1.7 3-.1 5-1.6 1,.8 1,1.7 3-2.8 2-.9 1-1.1 1-2.3 1-4.2 5-25.9 4-15.3 13-41.3 10-33.5 2-5.7 1-1.7 1-.9 1,.2 6,6.6 3,1.8 4,0 5,.9 3-.4 5-1.4 2,.1 1,.5 1,.9 2,3.6 5,11.8 2,2.1 1,0 2-1.9 5-9.7 1-1.4 2-1.3 2,.3 4,1.3 2,.2 2-.4 2-1.1 2-.3 4,2.2 8,2.3 3,2 2,2.2 2,3.1 4,9 5,16 9,35.1 4,14.3 2,4.4 1,1.3 2,1.2 3,.6 3-.5 12-5.4 2-.6 3,.5 7,4 2,.7 4,.1 3-1.2 1-1 2-3.3 9-19.3 4-7 3-4.1 3-3.3 4-3.4 2-1.1 2-.2 8,2.8 6,4.2 5,1 2,.9 3,2.4 3,3.9 3,5.5 3,7.8 5,16 5,18.8 3,13.1 1,7.1M396,360.5l1-5.2 1-2.8 1-1.6 1-.5 3-12.9 2-5.6 2-3.1 4-2.7 2-.5 2,.7 6,2.9 8,7.6 5,6.6 6,10.5 3,4.3 2-3.2 1-2.9 2-10.9 3-10.6 3-13.6 2-7.4 1-2.5 2-2.8 1-.7 2-.3 2,.6 1,.8 4,6.3 8,17.1 10,20 5,9.7 3,4.6M519,361.6l8-27.8 2-5.4 2-4 3-3.3 5-2.8 6-4.7 3-1.3 2,0 3,1.4 6,4.3 2,2.2 1,1.7 2,4.3 4,24.7 1,1 7-9.1 2-3.6 3-8 5-16.5 4-9.4 3-4.8 2-1.6 1-.1 6,2 3,1.8 4,4.9 4,5.9 3,6.1 5,11.9 10,32.1M678,356.9l1-3.2 1-1.7 1-.7 1,.2 1,.7 4,3.5 2,.1 2-1.1 4-3.9 3-2 3-.7 5,.1 4,1.3 4,2.9 5,5.9 3,4.9"/>
<path d="M38,350.1l14,3.3 4-.1 5-1.2 1,.9 2,2.9 2-2.2 2-1.4 2-6.5 3-18.1 3-14.9 4-14.9 13-39.8 10-32.5 2-4.6 1-.9 1,0 7,7.7 3,2 4,.2 4,1 2,.2 7-1.2 2,.4 1,.7 1,1.2 2,4.3 5,14.5 1,1.7 1,1 1,.1 1-.7 1-1.6 6-14.5 1-1.5 2-1.2 6,1 5-.7 1,.3 5,3.3 7,2.1 4,2.3 3,3.4 2,3.4 4,9.4 4,12.8 9,34.7 2,6.3 1,2.2 2,2.9 2,1.8 3,1.7 3,.4 3-.5 11-4.5 3-.7 3,.8 8,4.4 4,.2 3-1 1-.8 2-2.9 9-18.8 4-6.8 3-4 3-3.1 4-3 2-.9 2,0 2,1.1 7,5.1 5,4.7 2,.7 4,.2 3,1.2 3,2.4 3,4 2,3.8 3,7.5 4,12.3 5,17.6 3,12.8 1,7.5M398,360.9l1-4.9 2-3.6 2-8.6 3-8 2-2.4 3-1.7 2-.7 2,.3 6,2.8 2,1.4 7,6.3 4,4.6 7,10.8 2,2.8 1,.7 2-3.3 1-3.3 2-10.8 3-10.7 3-13.6 2-7.2 1-2.4 2-2.5 1-.6 2-.3 2,.7 1,.9 3,4.6 9,19 10,20 4,7.5 3,4.7M523,361.7l5-18.1 2-5.6 2-4.1 1-1.4 2-1.8 5-2.2 5-2.7 2-.7 2,0 3,1.3 5,4.4 4,3 3,3.3 1,1.3 4,16.2 1,.8 7-8.6 2-3.2 3-7.4 4-13.3 3-8.3 2-4.1 3-4.6 2-1.4 1-.2 6,2.2 3,1.8 4,4.7 4,5.7 3,5.9 5,11.3 8,25.3M682,363.5l1-.4 1,.5M694,362.6l2-2.5 2-1.8 2-1 3-.3 3,.6 3,1.3 3,2.2 2,2.3"/>
<path d="M38,359.6l17-.6 6-.8 1,1 2,4.2 3-2.5 1-2.2 1-4.2 4-25.7 2-10.2 3-12.2 4-12.9 12-35 9-28.3 1-2.1 1-1.1 1-.2 2,1.7 6,7 3,2.2 5,.6 3,1 2,.3 7-.7 2,.8 1,.9 1,1.5 2,5.1 5,17.4 1,2.1 1,1.3 1,.2 1-.8 1-1.7 6-18.1 1-2.1 2-2.2 2-.4 4,.5 3-.3 1,.2 1,.5 5,4.4 3,1.4 6,1.7 3,1.8 3,3.3 2,3.1 4,9.1 4,12.3 7,26.1 2,5.5 2,3.5 3,4 3,2.7 2,1.1 3,.6 3-.3 12-4.2 2-.4 3,.7 7,4 2,.7 3,.2 3-.8 2-1.8 1-1.5 10-20 5-7.5 4-4 4-2.5 3-.8 2,.8 2,1.8 11,12.6 2,.9 6,0 3,1.1 3,2.5 3,4.4 2,4.2 3,7.9 6,18.6 4,16.2 1,8.5M400,359.4l2-5.5 2-7.3 2-5.1 1-1.6 2-1.8 3-1.4 2-.4 2,.5 6,2.8 8,6.2 5,5 6,8.5 2,2 1,1.8 1,.2 2-3.6 3-14.3 3-10.7 3-13.7 2-6.9 2-3.7 2-1.4 2-.2 2,.8 1,1 3,4.7 9,19 9,17.9 7,12.3M526,365.5l2-8.9 2-6.4 2-5 2-3.3 1-1.1 2-1.2 9-2.4 3,.3 2,1.1 8,8.3 3,2.1 4,1.9 4,7.7 1,.3 7-8.3 3-4.4 3-8 4-13.2 3-7.4 2-3.6 2-2.7 2-1.3 1-.1 5,1.8 4,2.3 3,3.3 5,6.8 4,7.7 4,8.9 7,22"/>
<path d="M49,365.6l4-.7 8-.4M68,364.1l5-34.2 2-9.9 3-12 4-12.4 12-33.4 8-24.4 2-3.8 1-.5 1,.3 1,.9 7,8.2 3,2.4 5,.9 5,1.6 7-.1 2,1 1,1.2 2,4.2 1,3.3 5,20.3 1,2.8 1,1.6 1,.4 1-.8 2-4.8 4-15.4 2-6.1 1-2.1 1-1.2 1-.7 2-.4 4,0 2,.6 5,5.2 2,1.6 3,1.4 6,1.9 3,1.7 2,1.8 2,2.6 4,7.7 4,11.2 5,17.3 3,7.6 4,6.7 3,4.1 3,2.9 3,1.6 3,.5 3-.3 11-3.3 3-.5 3,1 8,4.4 3,.2 3-.7 2-1.4 2-2.9 9-17.6 2-3.4 3-3.9 3-3 3-2 3-1.2 2-.1 1,.2 1,.7 2,2.1 7,10.7 5,5.3 2,.9 5-.1 3,.7 3,1.9 3,3.5 4,7.9 5,13.2 4,12.9 2,9.5M402,359l3-9.4 2-4.1 2-2.1 4-1.6 2-.3 2,.6 6,2.8 8,5.7 4,3.5 7,8.6 2,1.4M447,363.9l1-1.9 2-10.4 4-14.8 4-17.5 2-5 1-1.3 2-1.3 2-.1 1,.2 2,1.8 3,4.7 9,19.2 8,15.8 7,12.3M530,363.7l2-6.8 3-5.8 1-1 2-1.1 6-.6 4,.5 3,2 2,2.2 6,8.2 3,2.6 2,.6 1,0 2-.9 4-.6 1-.5 7-8.1 3-4.1 2-4.2 5-15.9 3-7.5 2-3.5 2-2.5 1-.7 2-.6 5,1.9 4,2.5 3,3.2 5,6.6 3,5.3 5,10.7 6,18.7"/>
<path d="M69,362.6l3-25.7 3-15.6 3-11.6 4-11.9 12-31.7 7-20.7 2-4.2 1-1 1,0 3,2.5 6,7.3 3,2.6 2,.7 3,.5 5,1.8 7,.4 2,1.4 2,3.2 1,2.8 6,26.7 2,5.4 1,.7 1-.7 2-5.2 6-25.2 2-4.4 2-1.7 2-.5 3,.2 2,1.5 4,5.4 3,2.7 3,1.5 6,2 3,1.6 2,1.7 2,2.5 3,5.1 3,7.1 6,17.2 6,10.5 3,4.8 3,3.9 3,2.6 3,1.5 3,.3 3-.2 11-2.8 2-.2 2,.3 2,.9 7,4 3,.4 3-.6 2-1.2 2-2.6 9-16.9 2-3.2 3-3.9 3-2.7 3-1.7 4-1 2,.5 1,.7 2,2.4 5,9.4 7,9.6 1,.8 2,.9 5-.1 3,.5 3,1.7 3,3.3 3,5.1 4,9.1 4,11 2,7.4M402,368l1-6.9 2-5.8 2-4.3 1-1.4 2-1.6 5-1.3 2,.2 6,2.7 6,3.7 7,5.2 6,6.9M449,364.4l2-10.8 3-10.8 5-21.3 2-4.7 1-1.2 2-1.2 2,0 1,.3 2,1.8 3,4.9 10,21.2 7,13.7 5,8.9M533,367.6l1-3.6 2-3.8 2-1.7 2-.4 5,.8 3,1.2 3,2.6 2,2.9M574,366l1-1.7 7-8.5 2-3.1 2-4.6 4-12.6 3-7.6 3-4.7 2-1.7 1-.4 2,.1 2,.8 5,2.8 3,2.7 5,6.1 3,4.9 5,9.8 2,4.7 3,9.1"/>
<path d="M69,368l1-13.9 2-16.1 2-10.7 3-12.4 4-12.2 12-30 8-22.3 2-3.3 1-.5 1,.3 2,1.5 7,8.4 3,2.7 2,.9 3,.6 5,2.1 7,.8 2,1.5 2,3.6 2,6.8 4,20.8 2,8.5M151,302.9l5-24.5 2-7.2 2-3.7 2-1.5 2-.4 2,1 5,7.2 4,4 3,1.7 8,3 2,1.4 2,1.9 2,2.7 2,3.5 6,13.7 12,19.3 3,4 2,2.1 2,1.5 2,.9 3,.6 3-.1 12-2.3 2,0 4,1.5 5,3 2,.8 2,.3 3-.6 2-1 2-2.2 10-17.7 4-5.3 3-2.5 2-1.1 3-.8 3,.1 2,1.2 2,2.6 5,10 6,10.5 2,2.8 1,.9 2,.8 5-.5 3,.4 3,1.5 3,2.9 3,4.7 3,6 3,7 2,6M404,362.8l3-6.3 2-2.7 2-1 4-.9 2,0 9,4 10,6.2 3,2.7 2,3.2M450,367.2l2-11.6 3-10.6 5-21.2 2-4.4 2-1.9 2-.4 2,.5 1,.8 3,4.4 3,5.7 8,17.2 11,20.7M578,366l6-7.5 2-3.6 6-17.1 3-6.7 1-1.5 2-2 2-1 1,0 4,1.6 5,3.1 3,3 4,5.1 4,6.5 5,9.6 2,5 2,7.6"/>
<path d="M70,356l1-9.9 2-12.6 2-9.3 3-10.9 4-10.9 12-28.2 6-16.1 2-4 1-1 1-.2 1,.3 2,1.5 8,9.6 3,2.4 4,1.1 5,2.3 7,1.2 2,1.6 2,3.7 2,7.1 4,22.1M153,304.4l3-16.7 2-8.3 2-4.5 1-1.2 2-1.2 1,.1 2,2 4,6.8 4,4.9 4,2.6 8,3.2 4,3.1 3,4 4,7.1 4,4.5 3,4.1 10,15.9 4,4.3 4,2.2 3,.5 3,0 13-1.6 4,1.3 7,3.9 2,.3 3-.4 3-1.7 2-2.3 10-16.6 4-5 3-2 2-.6 3-.2 2,.4 2,1.4 2,2.7 11,23.3 3,4.7 1,.9 2,.6 5-.9 3,.1 2,.6 2,1.2 3,3.1 3,4.7 3,5.6 2,5.1M405,365.1l3-4.9 2-1.9 2-.6 5-.6 3,.8 7,3.2 10,5.4 1,1M452,362.7l9-36.6 1-2.5 2-2.7 2-1 2,.2 2,1.3 1,1.2 3,5 9,19.3 11,20.7M581,367.7l1-1.6 3-3.6 2-3.3 7-18.8 2-4.2 2-2.5 2-1.3 1-.2 2,.2 5,2.6 3,2.1 3,3.1 5,6.5 3,4.8 5,9.1 2,5.3"/>
<path d="M70,358.3l1-11 2-12.5 2-9.1 3-10.5 4-10.3 12-26.4 6-15.2 1-2.1 2-2.3 1,0 1,.4 2,1.4 2,2 6,7.5 3,2.5 4,1.3 5,2.5 7,1.5 2,1.6 2,3.7 1,3.1 2,9 2,11.8M155,301.9l2-10.8 2-7.3 2-3.6 1-.8 1-.2 1,.6 1,1.2 5,9 4,5.1 4,2.9 7,2.8 3,1.7 6,5.9 7,5.9 4,5.3 9,14.4 3,3.6 2,1.7 3,1.7 4,.8 16-.8 4,1.5 5,3 2,.7 5-.2 3-1.4 3-3.4 9-12.9 4-4.5 2-1.6 2-1.1 3-.5 2,.3 2,1.2 1,1.1 2,3.1 3,6.8 7,18 2,4.3 2,2.8 1,.7 2,.4 6-1.8 3,.2 2,.6 2,1.2 2,2 4,5.7M406,368.2l2-2.9 2-1.9 2-.6 5-.5 2,.2 2,.7 11,5M453,364.8l9-36.3 1-2.4 2-2.5 1-.6 2-.2 2,.7 1,.9 3,4.6 10,21 9,17.1M585,367.9l2-2.7 2-3.8 4-10.9 4-9.1 2-2.5 1-.6 2-.6 2,.3 4,2.1 3,2.1 3,2.8 5,6.2 3,4.4 5,8.2 2,4.8"/>
<path d="M70,360.9l1-12.5 2-12.4 2-8.8 3-10.1 4-9.8 11-22.2 7-16.4 2-3.4 1-.7 1,0 3,1.6 2,2 6,7.4 3,2.7 5,1.8 4,2.2 7,1.7 2,1.5 2,3.6 1,2.9 3,14.5M156,303.3l3-13.1 2-4.2 1-.5 1,.3 2,2.8 6,11.1 4,4.8 4,2.7 7,3 1,.1 4-1.8 4,4.4 5,4 3,3.3 10,15.7 4,5.2 4,3.3 4,1.3 6,.5 11-.3 3,.9 8,3.7 4,.5 3-.2 2-.9 2-1.8 11-12.9 4-3.7 4-2 2-.2 2,.3 2,1.4 1,1.3 2,3.6 3,7.7 6,18.2 3,7.4M315,369.4l3-.3 2,.4M410,368.5l2-.8 6-.1 3,.5 3,1.4M454,367l4-15.6 3-13.6 2-7 2-3.7 1-.9 2-.6 2,.2 1,.6 1,1 2,3 3,5.5 8,17.3 8,15.1M588,370.4l9-22.2 2-3.2 1-.9 1-.5 2-.4 2,.3 3,1.5 6,4.9 7,8.5 6,9.3"/>
<path d="M70,362.6l1-13.1 1-6.7 3-14 3-9.7 4-9.2 11-20.5 7-15.3 2-3.3 1-.8 1-.1 3,1.5 3,3 5,6.2 3,2.7 5,2 5,2.7 5,1.1 2,.9 2,2.3 1,2 2,6.4 1,4.7M158,299.5l2-6.2 1-1.3 1-.2 1,.7 1,1.5 5,10 3,4.9 3,3.6 3,2.5 3,1.6 6,2.4 4-6.9 1,.5 3,3.9 6,5.2 3,3.5 9,14.2 4,5.4 3,2.8 4,2.1 4,.8 6,.4 9-.3 4,1.1 8,3.7 3,.6 3,.1 3-1.2 3-2.3 10-9.7 3-2.4 4-1.9 2-.3 2,.4 2,1.7 1,1.5 2,4.3 3,8.9 4,14.8M455,369.3l8-33.2 2-5.1 2-2 2-.6 2,.3 1,.7 3,4.1 3,5.6 8,17.3 7,13.1M592,368.5l3-9 4-8.5 2-2.2 3-.5 2,.5 3,1.7 5,4.3 8,9.5 4,6.3"/>
<path d="M70,364.4l1-13.7 1-6.7 3-13.6 3-9.2 4-8.7 11-18.6 8-16.1 2-2.5 1-.4 1,.2 3,1.9 7,8.3 3,2.7 5,2.1 5,2.9 5,1.2 2,.8 2,2.2 2,4.5M159,301.3l1-2.3 1-1 1,.2 2,2.9 6,12 4,6 2,2.1 3,2.4 8,3.9 4-11.1 1-.7 4,5.7 5,4.4 3,3.3 10,15.6 3,4 3,2.9 3,1.8 2,.7 3,.5 13-.3 3,.3 4,1.4 8,4.3 4,1.2 3,.1 3-1 4-2.2 9-7.1 3-2 3-1.2 3-.2 2,1.3 2,3.1 3,8.1 2,7.6M456,371.5l8-33.1 2-4.8 1-1.1 2-1.2 2,0 1,.3 1,.8 2,2.5 3,5.4 8,17.2 6,11.4M594,370.7l2-6.7 3-6.8 2-3.1 2-1 2,.2 2,.7 4,2.8 6,6.1 6,7.6"/>
<path d="M70,366.1l1-14.2 1-6.6 3-13.3 3-8.7 4-8.1 11-16.8 8-14.9 2-3 1-.7 1-.2 3,1.8 8,9.2 3,2.4 4,1.5 5,3.1 6,1.6 2,1.3 1,1.2M166,311.8l5,9.9 4,5.8 2,2.1 3,2.2 7,3.5 1-2.2 3-11.8 1-2.6 4,6.6 6,5.6 2,2.5 11,16.4 4,4.2 4,2.4 5,1.2 14,.7 3,.5 4,1.7 5,3.2 4,2.1 4,1.5 3,.4 4-.6 3-1 11-6.9 3-1.2 2-.3 2,.9 2,2.6 2,4.9 1,3.6M458,369.8l7-29.1 2-4.5 2-1.7 2-.4 2,.5 1,.8 3,4.4 3,5.7 7,15.2 5,9.4M597,369l2-5.2 2-3.8 1-1.3 1-.7 1-.2 3,.9 4,2.7 4,4 5,6.1"/>
<path d="M70,367.9l1-14.9 1-6.4 3-13 3-8.2 4-7.5 11-14.9 9-15.2 2-2.9 1-.7 1-.1 1,.5 3,2.7 5,6 3,2.9 5,2.3 5,3.2M174,333l2,2.5 3,2.8 3,1.9 5,2.5 1-1.1 4-19.1 1,1.1 3,5.7 4,5.7 13,16.7 3,3.3 3,2.5 3,1.7 4,1.3 17,2 3,.7 4,2 10,6.5M279,372.3l5-2.8 4-1.4 2,.5 2,2.4M460,368.5l4-18 2-7.4 1-2.5 2-2.7 1-.7 2-.2 1,.1 2,1.3 3,4.5 3,5.8 6,13.2 5,9.4M599,371.4l1-3 2-3.9 2-1.9 1-.1 3,1.4 4,3 3,3.1 2,2.9"/>
<path d="M71,354.2l1-6.3 2-9.1 2-6.4 3-6.9 3-4.9 12-14.2 11-16.8 1-.8 1-.3 1,.3 2,1.9 5,6 3,3 6,2.9M178,344l4,3 6,3.1 4-22.5 1-.9 3,6.5 2,5.5 2,3.4 12,13.5 5,4.6 3,1.9 4,1.4 22,4 4,1.9 5,4.1M460,374.7l5-22 2-7.2 2-4 1-.9 2-.8 2,.3 1,.5 1,.9 2,2.9 3,5.5 7,15.2 4,7.5M602,371l2-3.2 1-.7 1,.1 3,1.8 4,3.5"/>
<path d="M71,355.4l1-6.1 2-8.9 2-6.2 3-6.4 3-4.4 9-8.8 4-4.4 12-16.1 1-.7 1-.1 1,.4 8,8.9M183,353.9l5,2.7 4-23.6 1-3.2 2,5 3,10.6 2,3.9 4,4.3 10,9.2 4,2.6 3,1.3 24,5 3,1 2,1.3M462,373.5l4-18.7 2-6.9 2-3.7 1-.8 2-.7 2,.3 1,.6 2,2.3 4,7.2 9,18.9M605,372.6l1-.9 1,.1 2,1.6"/>
<path d="M71,356.7l2-10.8 2-7.1 3-6.8 3-4.7 13-10.8 4-4.3 8-9.6 4-3.5 1-.4 2,.8 3,3.3M188,362.3l1-3.1 4-26.3 2,5.9 3,13.1 2,4.5 3,3.5 8,6.5 6,3.5 4,1.3 11,1.7 7,2.3M464,371.6l3-14.6 2-6.6 1-2.2 1-1.3 1-.7 2-.6 2,.4 1,.7 2,2.3 4,7.3 8,17"/>
<path d="M71,357.9l2-10.5 2-6.9 2-4.4 3-4.9 2-2 9-5.5 4-2.9 5-4.6 7-7.7 6-5 2-1.3 2,.1M189,366.1l4-27.7 1,.4 1,3.9 3,15.7 1,3.1 2,3.7 3,3.1 5,3.5 4,2.1 5,1.7M465,374l3-14.8 2-6.4 1-2 1-1.1 1-.7 2-.4 2,.4 1,.7 2,2.5 4,7.4 7,14.8"/>
<path d="M71,359.4l2-10.3 2-6.7 2-4.3 3-4.7 2-2 10-5.7 5-3.7 4-4 10-11.5 4-3.9 2-.5 3,.7 2,0 7-1.9 4-.3 3,.3 8,2 3,.2 4-.7 7-2.9 2-.2 1,.8 2,3.5 15,39.4 4,8.1 7,12.8 2,7.5 2,4.6M466,376.4l3-15 1-3.5 2-4.4 1-1 2-1 3,.5 1,.8 2,2.6 4,7.4 6,12.8"/>
<path d="M71,360.9l2-10 2-6.6 2-4.2 3-4.6 2-1.9 10-5.2 5-3.5 4-3.8 9-10.4 5-5 2-.5 3,.8 2,0 7-1.7 4-.3 3,.3 7,1.7 4,.3 4-.8 7-3 2-.4 1,.7 2,3.1 8,20.3 6,16.4 5,10.2 7,12 1,4.8M468,373.8l2-9.9 2-5.9 2-2.7 1-.6 2-.2 2,.6 1,.8 2,2.7 4,7.4 5,10.7"/>
<path d="M71,362.3l2-9.7 2-6.3 2-4.2 3-4.5 2-1.7 10-4.8 5-3.4 5-4.6 9-10.5 4-3.8 2-.4 3,.8 2,.1 7-1.6 4-.3 3,.3 7,1.6 4,.3 4-.9 7-3.2 2-.6 1,.5 2,2.9 15,38.5 5,9.5 6,9.5 1,4.2M469,376.2l2-9.7 2-5.9 2-2.5 2-.8 2,.3 1,.5 2,2.2 4,6.9 5,10.5"/>
<path d="M71,363.8l2-9.4 2-6.2 2-4.1 3-4.3 3-2.3 10-4.3 5-3.4 5-4.6 8-9.5 4-3.8 2-.4 3,.9 2,.2 7-1.4 4-.4 3,.4 7,1.4 4,.2 4-.9 9-4 1,.3 1,1 2,3.8 7,17.4 5,13.5 3,6.9 5,8.8 5,7.2 1,2.3 1,11.2M471,373.4l2-7.7 1-2.5 1-1.5 2-1.3 3,.2 2,1.6 2,2.9 3,5.3 4,8.3"/>
<path d="M71,365.3l2-9.2 2-6 2-4.1 3-4.1 2-1.6 11-4.5 5-3.1 5-4.4 8-9.4 4-3.9 2-.4 3,1.1 2,.2 7-1.3 4-.3 3,.3 7,1.4 4,.1 4-1 9-4.2 1,.1 1,.9 2,3.4 12,30.5 3,6.8 5,8.7 6,8.2M472,375.9l1-4.2 2-5.7 2-2.3 2-.4 2,.4 2,1.6 3,4.6 4,7.7"/>
<path d="M71,366.7l2-8.8 2-5.9 2-4 3-4 3-2 11-4 5-3.1 5-4.5 7-8.4 4-3.8 2-.4 3,1.2 2,.3 8-1.4 3-.2 10,1.6 4,.1 4-1 9-4.5 1,0 1,.7 2,3.2 13,32.4 3,6.2 5,7.9 5,6.2M473,378.3l1-4.1 2-5.4 2-2 2-.5 2,.5 2,1.6 3,4.7 3,5.5"/>
<path d="M71,368.2l2-8.6 2-5.7 2-3.9 3-3.9 3-1.9 11-3.5 6-3.6 5-4.5 6-7.4 4-3.8 2-.3 3,1.1 2,.4 8-1.2 4-.2 9,1.5 4,0 4-1.1 8-4.3 2-.5 1,.6 2,2.9 15,36.1 5,8.2 6,7 1,5.1M474,380.7l1-3.9 2-5.1 1-1.2 2-1.1 3,.5 2,1.6 5,8.3"/>
<path d="M71,369.6l2-8.2 2-5.6 2-3.8 3-3.8 3-1.8 11-3.1 6-3.2 6-5.3 5-6.4 4-3.8 2-.3 3,1.2 2,.5 11-1.4 10,1.4 4,.1 4-1.2 8-4.4 2-.7 1,.4 2,2.7 13,31.1 3,6.2 5,7.4 6,6.2M476,379.6l2-4.9 1-1.2 2-1.1 2,.1 2,1.1 1,1.1 4,6.4"/>
<path d="M71,371.1l2-8 2-5.4 2-3.7 3-3.7 3-1.7 12-3 6-3.2 5-4.3 6-7.6 3-2.7 2-.2 5,1.7 11-1.2 10,1.3 4,0 4-1.2 8-4.6 2-.7 1,.2 1,.9 2,3.5 12,28.4 3,6.2 5,7.1 6,5.6M478,379.5l1-1.9 2-1.8 1-.3 2,0 2,1.2 3,4.1"/>
<path d="M71,372.7l2-7.8 2-5.3 2-3.7 3-3.6 3-1.6 12-2.4 6-2.9 5-4 6-7.7 3-2.7 2-.2 4,1.7 2,.3 10-1.2 10,1.2 4,0 5-1.7 7-4.2 2-.9 1,.1 1,.8 2,3.2 12,27.8 3,6 5,7 2,2 4,3 1,10.5M479,382.3l2-2.9 2-.9 2,.1 1,.4 2,1.8 1,1.5"/>
<path d="M71,374.9l2-8.3 2-5.1 2-3.6 3-3.5 3-1.6 12-1.9 6-2.5 5-3.7 6-7.7 3-2.7 2-.2 4,1.8 2,.3 10-1.2 10,1.2 4,0 4-1.2 9-5.4 2-.4 1,.6 2,2.9 12,27.2 3,5.9 2,3.1 3,3.7 2,1.8 4,2.7 1,3.7M481,383.4l2-1.6 1-.3 2,.1 2,1.2"/>
<path d="M71,377.1l1-5.4 2-6 3-5.9 3-3.4 3-1.4 13-1.7 6-2.4 5-3.9 5-6.7 3-2.7 2-.2 4,1.9 2,.3 10-1.1 10,1.1 4,0 2-.5 3-1.2 8-5.1 2-.6 1,.5 2,2.7 12,26.4 4,7.5 2,2.8 3,3.1 6,3.6M484,384.7l3-.1"/>
<path d="M71,379.2l1-5.9 2-5.8 3-5.8 3-3.3 2-1 2-.5 12-.9 6-2.1 5-3.5 5-6.8 3-2.7 2-.2 4,2 2,.4 10-1.2 11,1.2 3-.1 2-.4 3-1.3 8-5.1 2-.8 1,.3 2,2.4 13,27.8 3,5.3 2,2.6 3,3 2,1.4 4,1.7"/>
<path d="M71,381.3l1-6.4 3-7.8 3-4.7 3-2.6 2-.7 4-.4 9-.1 6-1.6 5-3.2 6-8 2-1.5 1-.3 1,.1 4,2 2,.4 11-1.1 9,1 4,0 2-.4 3-1.2 8-5.3 2-.9 1,.2 2,2.1 13,27 3,5.1 2,2.6 3,2.9 2,1.2 4,1.3 1,9.9"/>
<path d="M71,383.6l1-7.1 2-5.5 3-5.4 2-2.3 2-1.5 2-.6 4-.4 9,.5 6-1.2 5-3 6-7.9 2-1.6 1-.2 1,0 4,2.1 2,.4 11-1.1 10,1.2 3-.1 2-.4 3-1.2 10-6.4 1,.1 1,.6 2,2.9 12,24.4 4,6.4 3,3.1 2,1.4 2,.8 4,.9"/>
<path d="M71,385.8l1-7.8 2-5.2 3-5.3 2-2.3 2-1.4 2-.5 4-.3 7,.9 3,0 4-.5 2-.6 4-2.2 6-8.1 2-1.5 1-.3 1,.1 4,2.1 2,.5 11-1.2 10,1.2 3,0 2-.4 3-1.2 9-6.1 1-.5 1,0 2,1.5 1,1.6 12,23.6 4,6.2 3,3 2,1.3 2,.6 4,.5"/>
<path d="M71,388.4l1-8.7 2-5.1 3-5.2 2-2.3 2-1.3 2-.5 4-.2 9,1.5 5-.2 2-.4 4-2 2-2.3 4-5.8 1-1 2-.8 1,.1 4,2.1 2,.5 11-1.1 11,1.2 4-.4 4-1.6 8-5.7 2-.8 1,.4 2,2.3 12,22.8 4,6 3,2.9 2,1.2 2,.6 4,.3 1,19.3"/>
<path d="M71,391.2l1-9.8 1-2.8 2-4.2 2-3.2 2-2.1 2-1.3 2-.5 5,0 8,2 6,.1 2-.5 3-1.5 2-2.2 4-5.9 2-1.6 2-.1 4,2.1 2,.6 2,0 9-1.2 10,1.2 4,0 2-.5 3-1.3 8-5.7 2-1 1,.3 2,1.9 12,21.9 4,5.9 3,2.7 2,1.1 2,.5 3-.2 1,.6"/>
<path d="M72,385.7l1-5.3 2-4.2 3-4.3 3-2.2 3-.5 4,.3 8,2.4 5,.6 2-.2 3-.9 2-1.4 5-7.2 2-1.7 2-.1 4,2.1 2,.6 2,0 9-1.2 3,.2 8,1.2 3,0 2-.5 3-1.2 8-5.9 2-1 1,.1 2,1.7 12,20.9 4,5.6 3,2.6 2,1 2,.4 4-.6"/>
<path d="M72,388.4l1-6.1 1-2.4 3-4.9 2-2.2 2-1.2 3-.4 4,.4 9,3.2 5,.8 2,0 3-.8 1-.8 4-6.4 2-2.4 1-.6 2-.2 4,2.1 2,.6 2,.1 6-1.1 4-.2 10,1.5 3,.1 3-.7 2-1 9-6.5 1-.5 1,0 1,.4 2,2.4 11,18.5 4,5.3 2,1.8 2,1.2 3,.4 4-.5"/>
<path d="M72,396l1-9.4 1-4.5 3-5.3 2-2.1 2-1.2 3-.3 4,.5 9,3.8 5,1.6 3,.1 2-.4 1-.6 1-1.2 3-5.9 2-2.4 1-.7 2-.1 4,2.1 2,.6 2,0 6-1.1 4-.2 10,1.7 4,0 2-.6 3-1.4 8-6.1 2-.7 1,.3 2,2.1 11,17.6 4,5.1 2,1.5 2,.7 7,.4 1,8.3"/>
<path d="M73,390.1l1-5.4 2-4.5 2-2.7 2-1.7 1-.4 3-.2 4,.6 9,4.6 5,2.1 2,.5 3-.2 2-1.6 3-6.5 2-2.6 1-.6 2-.2 4,2.1 2,.6 2,0 6-1.1 4-.2 10,1.8 4,.1 2-.4 3-1.4 8-6.2 2-.9 1,.2 2,1.8 11,16.6 3,3.4 2,1.4 3,1.2 7,.6"/>
<path d="M73,396.7l1-7.8 1-3.7 3-5.9 2-1.7 1-.3 3-.1 4,.7 3,1.5 6,3.9 5,2.6 2,.7 3,.1 2-1.3 4-8.5 2-2 2-.1 4,2 2,.6 2,.1 6-1.2 4-.2 3,.3 8,1.8 3,.1 3-.7 2-1 3-2 5-4.2 2-1.1 1,.1 2,1.5 9,12.6 5,5.3 2,1.4 3,1.2 7,.9"/>
<path d="M74,393.1l1-5 3-6.5 1-1.4 2-1.1 3,0 5,1.4 7,5.2 6,3.6 2,.8 3,.4 1-.3 1-.8 4-8.3 1-1.5 2-1.4 1,0 4,2 2,.6 2,.1 7-1.4 6-.4 4,.5 2,.5 3,1.5 3,.3 2-.5 3-1.5 8-6.5 2-.5 2,1.3 8,10.2 3,3.2 3,2.6 5,2.3 7,1.2 1,6.7"/>
<path d="M74,398.8l1-6.7 1-3.1 3-6.2 2-1.3 3,.1 5,1.3 6,5 7,4.7 2,1 3,.7 1-.2 1-.7 4-8.2 1-1.6 2-1.4 1-.3 4,1.8 3,.5 3-.6 7-2.2 5-.3 5,1.4 4,2.4 3,.5 4-1.3 3-2 5-4.3 2-.6 2,1.1 8,8.6 5,4.2 5,2.4 6,1.5"/>
<path d="M75,397.6l1-5.4 3-6.3 1-.9 2-.5 4,.4 3,.9 6,5.1 5,3.6 1,1.5M112,392l1-2.7 1-1.7 1-1 2-.8 4,1.4 3,.2 2-.6 8-3.3 4-.5 2,.2 3,1.1 6,4.1 3,.7 2-.4 3-1.3 6-4.9 2-.8 2,.7 7,6.3 4,3 4,2.3 4,1.5 1,1.1"/>
<path d="M76,399.6l1-5.6 1-2.9 1-2 1-.9 1-.4 4,.1 4,.9 8,6.5M113,394.3l1-2.7 2-1.6 1-.3 4,1.1 3-.2 7-3.2 4-.6 3-1.2 2-.2 2,.6 2,1 4,3.6 2,1.4 3,.8 2-.3 2-.7 2-1.2 5-4.1 2-.3 2,1 8,5.8 7,3.5"/>
<path d="M78,395.8l1-3.3 1-1.1 1-.4 2-.1 6,.9 2,1.4 3,3M114,397.2l1-2.6 1-.7 2-.3 3,.8 2-.2 2-.7 4-2.3 2-.4 4,.2 5-.4 4,.4 3,1.4 4,3.2 2,.8 2,.1 3-.9 6-4.5 2-.5 2,.7 11,6.3"/>
<path d="M79,399l1-3.7 1-.9 1-.1 7,.6 2,1.5 1,1.7M116,398.6l1-1 4,.4 2-.2 5-2.9 2-.6 8,1.5 2,.7 2,1.3M147,397.7l1-.6 1,.1 1,.6M161,398.1l3-2.4 2-.7 2,.4 4,2.1"/>
<path d="M81,398.3l1-.5 6,.1 1,.3M127,398.8l2-.9 1,0 2,.4 2,.9"/>
</g>
</g>
<path d="M34,166.5H946.0" stroke="#808080" stroke-width="2" fill="none"/>
</svg>
<div style="position:absolute;left:35px;top:13px;width:1px;height:414px;background:#3c3c46"></div>
<div class="title">Waterfall</div>
<div class="ax" style="left:21px;top:0px;">dB</div>
<div class="ax yl" style="top:35.0px">80</div>
<div class="ax yl" style="top:97.0px">75</div>
<div class="ax yl" style="top:221.0px">65</div>
<div class="ax yl" style="top:283.0px">60</div>
<div class="ax yl" style="top:345.0px">55</div>
<div class="ax yl" style="top:407.0px">50</div>
<div class="ax xl" style="left:95.2px">20</div>
<div class="ax xl" style="left:207.6px">30</div>
<div class="ax xl" style="left:287.3px">40</div>
<div class="ax xl" style="left:349.2px">50</div>
<div class="ax xl" style="left:399.7px">60</div>
<div class="ax xl" style="left:442.4px">70</div>
<div class="ax xl" style="left:479.4px">80</div>
<div class="ax xl" style="left:512.1px">90</div>
<div class="ax xl" style="left:541.3px">100</div>
<div class="ax xl" style="left:733.4px">200</div>
<div class="ax xl" style="left:845.8px">300</div>
<div class="ax" style="left:930.5px;top:428px;letter-spacing:-0.25px">400 Hz</div>
<div class="lb" style="left:38px;top:45px;width:17px;height:13px;">0</div>
<div class="lb" style="left:38px;top:60px;width:17px;height:13px;">96</div>
<div class="lb" style="left:38px;top:76px;width:17px;height:13px;">192</div>
<div class="lb" style="left:38px;top:94px;width:17px;height:13px;">288</div>
<div class="lb" style="left:38px;top:112px;width:17px;height:13px;">384</div>
<div class="lb" style="left:38px;top:130px;width:17px;height:13px;">480</div>
<div class="lb" style="left:767px;top:46px;width:19px;height:14px;padding-left:3px;line-height:12px;background:#fafafa">0</div>
<div class="lb" style="left:797px;top:61px;width:19px;height:14px;padding-left:3px;line-height:12px;background:#fafafa">96</div>
<div class="lb" style="left:828px;top:76px;width:19px;height:14px;padding-left:3px;line-height:12px;background:#fafafa">192</div>
<div class="lb" style="left:858px;top:93px;width:19px;height:14px;padding-left:3px;line-height:12px;background:#fafafa">288</div>
<div class="lb" style="left:889px;top:110px;width:19px;height:14px;padding-left:3px;line-height:12px;background:#fafafa">384</div>
<div class="lb" style="left:920px;top:129px;width:19px;height:14px;padding-left:3px;line-height:12px;background:#fafafa">480</div>
<div class="lb" style="left:912px;top:13px;width:35px;height:15px;padding-left:3px;line-height:12px;background:#fff;font-size:9.5px">500ms</div>
<div class="cur" style="left:2px;top:160px;width:32px;height:14px;line-height:12px">69,64</div>
<div class="cur" style="left:19px;top:427px;width:33px;height:13px;line-height:11px">15,00</div>
<div class="legend"></div>
<div class="cb" style="left:191px"></div>
<svg style="position:absolute;left:191px;top:448px" width="13" height="13"><path d="M3.2,6.2L5.6,9.6L10,2.6" stroke="#2a3a8c" stroke-width="2" fill="none"/></svg>
<div class="lt" style="left:208px;color:#3a3ac0;letter-spacing:-0.15px">jun 29 15:25:52</div>
<div style="position:absolute;left:347px;top:454px;width:32px;height:2px;background:#2020e6"></div>
<div class="lt" style="left:399px;color:#3a3ac0">-180,0 dB</div>
<div class="cb" style="left:485px;border-color:#bdbdbd;background:#f6f6f6"></div>
<svg style="position:absolute;left:485px;top:448px" width="13" height="13"><path d="M3.2,6.2L5.6,9.6L10,2.6" stroke="#b8b8b8" stroke-width="1.6" fill="none"/></svg>
<div class="lt" style="left:502px;color:#b0b0b0">No overlay</div>
<div class="lt" style="left:727px;color:#b0b0b0">dB</div>
</body></html>
